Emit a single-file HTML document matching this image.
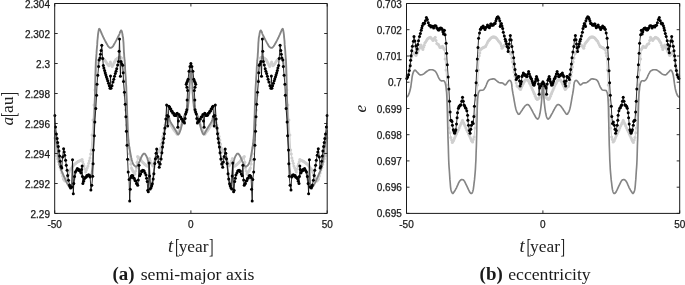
<!DOCTYPE html>
<html><head><meta charset="utf-8"><title>figure</title>
<style>
html,body{margin:0;padding:0;background:#fff;}
body{width:685px;height:285px;overflow:hidden;}
svg{display:block;}
.tk{font-family:"Liberation Sans",Arial,Helvetica,sans-serif;font-size:10px;fill:#1a1a1a;stroke:#1a1a1a;stroke-width:0.25px;}
.lab{font-family:"Liberation Serif","Times New Roman",serif;font-size:16.5px;fill:#222;}
.cap{font-family:"Liberation Serif","Times New Roman",serif;font-size:16.5px;fill:#1a1a1a;}
</style></head><body>
<svg width="685" height="285" viewBox="0 0 685 285">
<rect width="685" height="285" fill="#fff"/>
<clipPath id="c1"><rect x="53.2" y="2.0" width="275.5" height="212.9"/></clipPath>
<g clip-path="url(#c1)">
<path d="M54.8 138.0 L55.8 152.8 L58.3 161.6 L61.0 170.0 L63.4 179.0 L65.0 181.0 L67.0 178.0 L70.0 170.0 L74.0 164.7 L78.0 161.6 L82.1 159.6 L84.0 166.0 L85.6 172.0 L88.0 166.0 L90.0 158.0 L91.2 150.0 L92.0 135.0 L93.0 120.0 L94.0 105.0 L95.0 90.0 L96.0 75.0 L97.0 66.0 L98.5 60.0 L100.5 57.5 L103.0 58.5 L105.2 60.8 L107.0 63.5 L109.0 65.8 L110.3 62.0 L112.2 66.5 L114.0 63.0 L115.9 59.5 L118.0 58.0 L120.0 57.0 L121.5 58.0 L122.5 65.0 L123.5 80.0 L124.5 95.0 L125.5 110.0 L126.5 125.0 L127.8 140.0 L128.9 147.6 L130.0 160.0 L131.5 168.0 L132.9 171.0 L135.0 174.0 L136.5 168.0 L137.6 156.5 L139.0 158.0 L142.2 161.7 L145.3 164.8 L147.6 166.3 L148.5 162.0 L149.5 158.5 L151.0 163.0 L153.0 166.0 L155.0 160.0 L157.0 150.0 L159.0 152.0 L160.5 148.0 L162.0 140.0 L163.5 133.0 L165.0 125.0 L166.5 120.0 L168.0 121.0 L171.0 125.0 L174.0 130.0 L177.2 134.2 L180.0 129.0 L183.0 120.0 L185.0 115.0 L186.8 111.5 L187.8 106.0 L188.5 98.0 L189.1 88.0 L189.7 78.0 L190.3 69.0 L190.9 64.0 L191.6 69.0 L192.2 78.0 L192.8 88.0 L193.4 98.0 L194.1 106.0 L195.1 111.5 L196.9 115.0 L198.9 120.0 L201.9 129.0 L204.7 134.2 L207.9 130.0 L210.9 125.0 L213.9 121.0 L215.4 120.0 L216.9 125.0 L218.4 133.0 L219.9 140.0 L221.4 148.0 L222.9 152.0 L224.9 150.0 L226.9 160.0 L228.9 166.0 L230.9 163.0 L232.4 158.5 L233.4 162.0 L234.3 166.3 L236.6 164.8 L239.7 161.7 L242.9 158.0 L244.3 156.5 L245.4 168.0 L246.9 174.0 L249.0 171.0 L250.4 168.0 L251.9 160.0 L253.0 147.6 L254.1 140.0 L255.4 125.0 L256.4 110.0 L257.4 95.0 L258.4 80.0 L259.4 65.0 L260.4 58.0 L261.9 57.0 L263.9 58.0 L266.0 59.5 L267.9 63.0 L269.7 66.5 L271.6 62.0 L272.9 65.8 L274.9 63.5 L276.7 60.8 L278.9 58.5 L281.4 57.5 L283.4 60.0 L284.9 66.0 L285.9 75.0 L286.9 90.0 L287.9 105.0 L288.9 120.0 L289.9 135.0 L290.7 150.0 L291.9 158.0 L293.9 166.0 L296.3 172.0 L297.9 166.0 L299.8 159.6 L303.9 161.6 L307.9 164.7 L311.9 170.0 L314.9 178.0 L316.9 181.0 L318.5 179.0 L320.9 170.0 L323.6 161.6 L326.1 152.8 L327.1 138.0" fill="none" stroke="#cfcfcf" stroke-width="1" stroke-linejoin="round"/>
<g fill="#cfcfcf"><circle cx="54.8" cy="138.0" r="1.5"/><circle cx="55.8" cy="152.8" r="1.5"/><circle cx="56.6" cy="155.7" r="1.5"/><circle cx="57.5" cy="158.7" r="1.5"/><circle cx="58.3" cy="161.6" r="1.5"/><circle cx="59.2" cy="164.4" r="1.5"/><circle cx="60.1" cy="167.2" r="1.5"/><circle cx="61.0" cy="170.0" r="1.5"/><circle cx="61.8" cy="173.0" r="1.5"/><circle cx="62.6" cy="176.0" r="1.5"/><circle cx="63.4" cy="179.0" r="1.5"/><circle cx="64.2" cy="180.0" r="1.5"/><circle cx="65.0" cy="181.0" r="1.5"/><circle cx="65.7" cy="180.0" r="1.5"/><circle cx="66.3" cy="179.0" r="1.5"/><circle cx="67.0" cy="178.0" r="1.5"/><circle cx="67.8" cy="176.0" r="1.5"/><circle cx="68.5" cy="174.0" r="1.5"/><circle cx="69.2" cy="172.0" r="1.5"/><circle cx="70.0" cy="170.0" r="1.5"/><circle cx="70.8" cy="168.9" r="1.5"/><circle cx="71.6" cy="167.9" r="1.5"/><circle cx="72.4" cy="166.8" r="1.5"/><circle cx="73.2" cy="165.8" r="1.5"/><circle cx="74.0" cy="164.7" r="1.5"/><circle cx="74.8" cy="164.1" r="1.5"/><circle cx="75.6" cy="163.5" r="1.5"/><circle cx="76.4" cy="162.8" r="1.5"/><circle cx="77.2" cy="162.2" r="1.5"/><circle cx="78.0" cy="161.6" r="1.5"/><circle cx="78.8" cy="161.2" r="1.5"/><circle cx="79.6" cy="160.8" r="1.5"/><circle cx="80.5" cy="160.4" r="1.5"/><circle cx="81.3" cy="160.0" r="1.5"/><circle cx="82.1" cy="159.6" r="1.5"/><circle cx="82.7" cy="161.7" r="1.5"/><circle cx="83.4" cy="163.9" r="1.5"/><circle cx="84.0" cy="166.0" r="1.5"/><circle cx="84.8" cy="169.0" r="1.5"/><circle cx="85.6" cy="172.0" r="1.5"/><circle cx="86.4" cy="170.0" r="1.5"/><circle cx="87.2" cy="168.0" r="1.5"/><circle cx="88.0" cy="166.0" r="1.5"/><circle cx="88.7" cy="163.3" r="1.5"/><circle cx="89.3" cy="160.7" r="1.5"/><circle cx="90.0" cy="158.0" r="1.5"/><circle cx="90.6" cy="154.0" r="1.5"/><circle cx="91.2" cy="150.0" r="1.5"/><circle cx="92.0" cy="135.0" r="1.5"/><circle cx="93.0" cy="120.0" r="1.5"/><circle cx="94.0" cy="105.0" r="1.5"/><circle cx="95.0" cy="90.0" r="1.5"/><circle cx="96.0" cy="75.0" r="1.5"/><circle cx="97.0" cy="66.0" r="1.5"/><circle cx="97.8" cy="63.0" r="1.5"/><circle cx="98.5" cy="60.0" r="1.5"/><circle cx="99.2" cy="59.2" r="1.5"/><circle cx="99.8" cy="58.3" r="1.5"/><circle cx="100.5" cy="57.5" r="1.5"/><circle cx="101.3" cy="57.8" r="1.5"/><circle cx="102.2" cy="58.2" r="1.5"/><circle cx="103.0" cy="58.5" r="1.5"/><circle cx="103.7" cy="59.3" r="1.5"/><circle cx="104.5" cy="60.0" r="1.5"/><circle cx="105.2" cy="60.8" r="1.5"/><circle cx="106.1" cy="62.1" r="1.5"/><circle cx="107.0" cy="63.5" r="1.5"/><circle cx="107.7" cy="64.3" r="1.5"/><circle cx="108.3" cy="65.0" r="1.5"/><circle cx="109.0" cy="65.8" r="1.5"/><circle cx="109.7" cy="63.9" r="1.5"/><circle cx="110.3" cy="62.0" r="1.5"/><circle cx="110.9" cy="63.5" r="1.5"/><circle cx="111.6" cy="65.0" r="1.5"/><circle cx="112.2" cy="66.5" r="1.5"/><circle cx="113.1" cy="64.8" r="1.5"/><circle cx="114.0" cy="63.0" r="1.5"/><circle cx="114.6" cy="61.8" r="1.5"/><circle cx="115.3" cy="60.7" r="1.5"/><circle cx="115.9" cy="59.5" r="1.5"/><circle cx="116.6" cy="59.0" r="1.5"/><circle cx="117.3" cy="58.5" r="1.5"/><circle cx="118.0" cy="58.0" r="1.5"/><circle cx="118.7" cy="57.7" r="1.5"/><circle cx="119.3" cy="57.3" r="1.5"/><circle cx="120.0" cy="57.0" r="1.5"/><circle cx="120.8" cy="57.5" r="1.5"/><circle cx="121.5" cy="58.0" r="1.5"/><circle cx="122.5" cy="65.0" r="1.5"/><circle cx="123.5" cy="80.0" r="1.5"/><circle cx="124.5" cy="95.0" r="1.5"/><circle cx="125.5" cy="110.0" r="1.5"/><circle cx="126.5" cy="125.0" r="1.5"/><circle cx="127.2" cy="132.5" r="1.5"/><circle cx="127.8" cy="140.0" r="1.5"/><circle cx="128.3" cy="143.8" r="1.5"/><circle cx="128.9" cy="147.6" r="1.5"/><circle cx="129.4" cy="153.8" r="1.5"/><circle cx="130.0" cy="160.0" r="1.5"/><circle cx="130.8" cy="164.0" r="1.5"/><circle cx="131.5" cy="168.0" r="1.5"/><circle cx="132.2" cy="169.5" r="1.5"/><circle cx="132.9" cy="171.0" r="1.5"/><circle cx="133.6" cy="172.0" r="1.5"/><circle cx="134.3" cy="173.0" r="1.5"/><circle cx="135.0" cy="174.0" r="1.5"/><circle cx="135.8" cy="171.0" r="1.5"/><circle cx="136.5" cy="168.0" r="1.5"/><circle cx="137.1" cy="162.2" r="1.5"/><circle cx="137.6" cy="156.5" r="1.5"/><circle cx="138.3" cy="157.2" r="1.5"/><circle cx="139.0" cy="158.0" r="1.5"/><circle cx="139.8" cy="158.9" r="1.5"/><circle cx="140.6" cy="159.8" r="1.5"/><circle cx="141.4" cy="160.8" r="1.5"/><circle cx="142.2" cy="161.7" r="1.5"/><circle cx="143.0" cy="162.5" r="1.5"/><circle cx="143.8" cy="163.2" r="1.5"/><circle cx="144.5" cy="164.0" r="1.5"/><circle cx="145.3" cy="164.8" r="1.5"/><circle cx="146.1" cy="165.3" r="1.5"/><circle cx="146.8" cy="165.8" r="1.5"/><circle cx="147.6" cy="166.3" r="1.5"/><circle cx="148.5" cy="162.0" r="1.5"/><circle cx="149.5" cy="158.5" r="1.5"/><circle cx="150.2" cy="160.8" r="1.5"/><circle cx="151.0" cy="163.0" r="1.5"/><circle cx="151.7" cy="164.0" r="1.5"/><circle cx="152.3" cy="165.0" r="1.5"/><circle cx="153.0" cy="166.0" r="1.5"/><circle cx="153.7" cy="164.0" r="1.5"/><circle cx="154.3" cy="162.0" r="1.5"/><circle cx="155.0" cy="160.0" r="1.5"/><circle cx="155.7" cy="156.7" r="1.5"/><circle cx="156.3" cy="153.3" r="1.5"/><circle cx="157.0" cy="150.0" r="1.5"/><circle cx="157.7" cy="150.7" r="1.5"/><circle cx="158.3" cy="151.3" r="1.5"/><circle cx="159.0" cy="152.0" r="1.5"/><circle cx="159.8" cy="150.0" r="1.5"/><circle cx="160.5" cy="148.0" r="1.5"/><circle cx="161.2" cy="144.0" r="1.5"/><circle cx="162.0" cy="140.0" r="1.5"/><circle cx="162.8" cy="136.5" r="1.5"/><circle cx="163.5" cy="133.0" r="1.5"/><circle cx="164.2" cy="129.0" r="1.5"/><circle cx="165.0" cy="125.0" r="1.5"/><circle cx="165.8" cy="122.5" r="1.5"/><circle cx="166.5" cy="120.0" r="1.5"/><circle cx="167.2" cy="120.5" r="1.5"/><circle cx="168.0" cy="121.0" r="1.5"/><circle cx="168.8" cy="122.0" r="1.5"/><circle cx="169.5" cy="123.0" r="1.5"/><circle cx="170.2" cy="124.0" r="1.5"/><circle cx="171.0" cy="125.0" r="1.5"/><circle cx="171.8" cy="126.2" r="1.5"/><circle cx="172.5" cy="127.5" r="1.5"/><circle cx="173.2" cy="128.8" r="1.5"/><circle cx="174.0" cy="130.0" r="1.5"/><circle cx="174.8" cy="131.1" r="1.5"/><circle cx="175.6" cy="132.1" r="1.5"/><circle cx="176.4" cy="133.1" r="1.5"/><circle cx="177.2" cy="134.2" r="1.5"/><circle cx="177.9" cy="132.9" r="1.5"/><circle cx="178.6" cy="131.6" r="1.5"/><circle cx="179.3" cy="130.3" r="1.5"/><circle cx="180.0" cy="129.0" r="1.5"/><circle cx="180.8" cy="126.8" r="1.5"/><circle cx="181.5" cy="124.5" r="1.5"/><circle cx="182.2" cy="122.2" r="1.5"/><circle cx="183.0" cy="120.0" r="1.5"/><circle cx="183.7" cy="118.3" r="1.5"/><circle cx="184.3" cy="116.7" r="1.5"/><circle cx="185.0" cy="115.0" r="1.5"/><circle cx="185.9" cy="113.2" r="1.5"/><circle cx="186.8" cy="111.5" r="1.5"/><circle cx="187.8" cy="106.0" r="1.5"/><circle cx="188.5" cy="98.0" r="1.5"/><circle cx="189.1" cy="88.0" r="1.5"/><circle cx="189.7" cy="78.0" r="1.5"/><circle cx="190.3" cy="69.0" r="1.5"/><circle cx="190.9" cy="64.0" r="1.5"/><circle cx="191.6" cy="69.0" r="1.5"/><circle cx="192.2" cy="78.0" r="1.5"/><circle cx="192.8" cy="88.0" r="1.5"/><circle cx="193.4" cy="98.0" r="1.5"/><circle cx="194.1" cy="106.0" r="1.5"/><circle cx="195.1" cy="111.5" r="1.5"/><circle cx="196.0" cy="113.2" r="1.5"/><circle cx="196.9" cy="115.0" r="1.5"/><circle cx="197.6" cy="116.7" r="1.5"/><circle cx="198.2" cy="118.3" r="1.5"/><circle cx="198.9" cy="120.0" r="1.5"/><circle cx="199.6" cy="122.2" r="1.5"/><circle cx="200.4" cy="124.5" r="1.5"/><circle cx="201.1" cy="126.8" r="1.5"/><circle cx="201.9" cy="129.0" r="1.5"/><circle cx="202.6" cy="130.3" r="1.5"/><circle cx="203.3" cy="131.6" r="1.5"/><circle cx="204.0" cy="132.9" r="1.5"/><circle cx="204.7" cy="134.2" r="1.5"/><circle cx="205.5" cy="133.1" r="1.5"/><circle cx="206.3" cy="132.1" r="1.5"/><circle cx="207.1" cy="131.1" r="1.5"/><circle cx="207.9" cy="130.0" r="1.5"/><circle cx="208.6" cy="128.8" r="1.5"/><circle cx="209.4" cy="127.5" r="1.5"/><circle cx="210.1" cy="126.2" r="1.5"/><circle cx="210.9" cy="125.0" r="1.5"/><circle cx="211.6" cy="124.0" r="1.5"/><circle cx="212.4" cy="123.0" r="1.5"/><circle cx="213.1" cy="122.0" r="1.5"/><circle cx="213.9" cy="121.0" r="1.5"/><circle cx="214.6" cy="120.5" r="1.5"/><circle cx="215.4" cy="120.0" r="1.5"/><circle cx="216.1" cy="122.5" r="1.5"/><circle cx="216.9" cy="125.0" r="1.5"/><circle cx="217.6" cy="129.0" r="1.5"/><circle cx="218.4" cy="133.0" r="1.5"/><circle cx="219.1" cy="136.5" r="1.5"/><circle cx="219.9" cy="140.0" r="1.5"/><circle cx="220.6" cy="144.0" r="1.5"/><circle cx="221.4" cy="148.0" r="1.5"/><circle cx="222.1" cy="150.0" r="1.5"/><circle cx="222.9" cy="152.0" r="1.5"/><circle cx="223.6" cy="151.3" r="1.5"/><circle cx="224.2" cy="150.7" r="1.5"/><circle cx="224.9" cy="150.0" r="1.5"/><circle cx="225.6" cy="153.3" r="1.5"/><circle cx="226.2" cy="156.7" r="1.5"/><circle cx="226.9" cy="160.0" r="1.5"/><circle cx="227.6" cy="162.0" r="1.5"/><circle cx="228.2" cy="164.0" r="1.5"/><circle cx="228.9" cy="166.0" r="1.5"/><circle cx="229.6" cy="165.0" r="1.5"/><circle cx="230.2" cy="164.0" r="1.5"/><circle cx="230.9" cy="163.0" r="1.5"/><circle cx="231.6" cy="160.8" r="1.5"/><circle cx="232.4" cy="158.5" r="1.5"/><circle cx="233.4" cy="162.0" r="1.5"/><circle cx="234.3" cy="166.3" r="1.5"/><circle cx="235.1" cy="165.8" r="1.5"/><circle cx="235.8" cy="165.3" r="1.5"/><circle cx="236.6" cy="164.8" r="1.5"/><circle cx="237.4" cy="164.0" r="1.5"/><circle cx="238.1" cy="163.2" r="1.5"/><circle cx="238.9" cy="162.5" r="1.5"/><circle cx="239.7" cy="161.7" r="1.5"/><circle cx="240.5" cy="160.8" r="1.5"/><circle cx="241.3" cy="159.8" r="1.5"/><circle cx="242.1" cy="158.9" r="1.5"/><circle cx="242.9" cy="158.0" r="1.5"/><circle cx="243.6" cy="157.2" r="1.5"/><circle cx="244.3" cy="156.5" r="1.5"/><circle cx="244.8" cy="162.2" r="1.5"/><circle cx="245.4" cy="168.0" r="1.5"/><circle cx="246.1" cy="171.0" r="1.5"/><circle cx="246.9" cy="174.0" r="1.5"/><circle cx="247.6" cy="173.0" r="1.5"/><circle cx="248.3" cy="172.0" r="1.5"/><circle cx="249.0" cy="171.0" r="1.5"/><circle cx="249.7" cy="169.5" r="1.5"/><circle cx="250.4" cy="168.0" r="1.5"/><circle cx="251.1" cy="164.0" r="1.5"/><circle cx="251.9" cy="160.0" r="1.5"/><circle cx="252.4" cy="153.8" r="1.5"/><circle cx="253.0" cy="147.6" r="1.5"/><circle cx="253.5" cy="143.8" r="1.5"/><circle cx="254.1" cy="140.0" r="1.5"/><circle cx="254.7" cy="132.5" r="1.5"/><circle cx="255.4" cy="125.0" r="1.5"/><circle cx="256.4" cy="110.0" r="1.5"/><circle cx="257.4" cy="95.0" r="1.5"/><circle cx="258.4" cy="80.0" r="1.5"/><circle cx="259.4" cy="65.0" r="1.5"/><circle cx="260.4" cy="58.0" r="1.5"/><circle cx="261.1" cy="57.5" r="1.5"/><circle cx="261.9" cy="57.0" r="1.5"/><circle cx="262.6" cy="57.3" r="1.5"/><circle cx="263.2" cy="57.7" r="1.5"/><circle cx="263.9" cy="58.0" r="1.5"/><circle cx="264.6" cy="58.5" r="1.5"/><circle cx="265.3" cy="59.0" r="1.5"/><circle cx="266.0" cy="59.5" r="1.5"/><circle cx="266.6" cy="60.7" r="1.5"/><circle cx="267.3" cy="61.8" r="1.5"/><circle cx="267.9" cy="63.0" r="1.5"/><circle cx="268.8" cy="64.8" r="1.5"/><circle cx="269.7" cy="66.5" r="1.5"/><circle cx="270.3" cy="65.0" r="1.5"/><circle cx="271.0" cy="63.5" r="1.5"/><circle cx="271.6" cy="62.0" r="1.5"/><circle cx="272.2" cy="63.9" r="1.5"/><circle cx="272.9" cy="65.8" r="1.5"/><circle cx="273.6" cy="65.0" r="1.5"/><circle cx="274.2" cy="64.3" r="1.5"/><circle cx="274.9" cy="63.5" r="1.5"/><circle cx="275.8" cy="62.1" r="1.5"/><circle cx="276.7" cy="60.8" r="1.5"/><circle cx="277.4" cy="60.0" r="1.5"/><circle cx="278.2" cy="59.3" r="1.5"/><circle cx="278.9" cy="58.5" r="1.5"/><circle cx="279.7" cy="58.2" r="1.5"/><circle cx="280.6" cy="57.8" r="1.5"/><circle cx="281.4" cy="57.5" r="1.5"/><circle cx="282.1" cy="58.3" r="1.5"/><circle cx="282.7" cy="59.2" r="1.5"/><circle cx="283.4" cy="60.0" r="1.5"/><circle cx="284.1" cy="63.0" r="1.5"/><circle cx="284.9" cy="66.0" r="1.5"/><circle cx="285.9" cy="75.0" r="1.5"/><circle cx="286.9" cy="90.0" r="1.5"/><circle cx="287.9" cy="105.0" r="1.5"/><circle cx="288.9" cy="120.0" r="1.5"/><circle cx="289.9" cy="135.0" r="1.5"/><circle cx="290.7" cy="150.0" r="1.5"/><circle cx="291.3" cy="154.0" r="1.5"/><circle cx="291.9" cy="158.0" r="1.5"/><circle cx="292.6" cy="160.7" r="1.5"/><circle cx="293.2" cy="163.3" r="1.5"/><circle cx="293.9" cy="166.0" r="1.5"/><circle cx="294.7" cy="168.0" r="1.5"/><circle cx="295.5" cy="170.0" r="1.5"/><circle cx="296.3" cy="172.0" r="1.5"/><circle cx="297.1" cy="169.0" r="1.5"/><circle cx="297.9" cy="166.0" r="1.5"/><circle cx="298.5" cy="163.9" r="1.5"/><circle cx="299.2" cy="161.7" r="1.5"/><circle cx="299.8" cy="159.6" r="1.5"/><circle cx="300.6" cy="160.0" r="1.5"/><circle cx="301.4" cy="160.4" r="1.5"/><circle cx="302.3" cy="160.8" r="1.5"/><circle cx="303.1" cy="161.2" r="1.5"/><circle cx="303.9" cy="161.6" r="1.5"/><circle cx="304.7" cy="162.2" r="1.5"/><circle cx="305.5" cy="162.8" r="1.5"/><circle cx="306.3" cy="163.5" r="1.5"/><circle cx="307.1" cy="164.1" r="1.5"/><circle cx="307.9" cy="164.7" r="1.5"/><circle cx="308.7" cy="165.8" r="1.5"/><circle cx="309.5" cy="166.8" r="1.5"/><circle cx="310.3" cy="167.9" r="1.5"/><circle cx="311.1" cy="168.9" r="1.5"/><circle cx="311.9" cy="170.0" r="1.5"/><circle cx="312.6" cy="172.0" r="1.5"/><circle cx="313.4" cy="174.0" r="1.5"/><circle cx="314.1" cy="176.0" r="1.5"/><circle cx="314.9" cy="178.0" r="1.5"/><circle cx="315.6" cy="179.0" r="1.5"/><circle cx="316.2" cy="180.0" r="1.5"/><circle cx="316.9" cy="181.0" r="1.5"/><circle cx="317.7" cy="180.0" r="1.5"/><circle cx="318.5" cy="179.0" r="1.5"/><circle cx="319.3" cy="176.0" r="1.5"/><circle cx="320.1" cy="173.0" r="1.5"/><circle cx="320.9" cy="170.0" r="1.5"/><circle cx="321.8" cy="167.2" r="1.5"/><circle cx="322.7" cy="164.4" r="1.5"/><circle cx="323.6" cy="161.6" r="1.5"/><circle cx="324.4" cy="158.7" r="1.5"/><circle cx="325.3" cy="155.7" r="1.5"/><circle cx="326.1" cy="152.8" r="1.5"/><circle cx="327.1" cy="138.0" r="1.5"/></g>
<path d="M54.8 131.0 L55.0 132.5 L55.3 134.6 L55.6 136.8 L55.8 138.6 L56.0 139.8 L56.1 140.7 L56.3 141.5 L56.4 142.4 L56.5 143.4 L56.7 144.4 L56.8 145.4 L57.0 146.5 L57.2 147.6 L57.4 148.6 L57.5 149.7 L57.7 150.9 L57.9 152.1 L58.0 153.4 L58.1 154.7 L58.3 156.0 L58.5 157.3 L58.6 158.7 L58.8 160.0 L59.0 161.3 L59.2 162.5 L59.4 163.8 L59.7 164.9 L59.9 166.0 L60.2 167.0 L60.4 167.8 L60.7 168.7 L61.0 169.5 L61.3 170.4 L61.7 171.2 L62.1 172.1 L62.5 173.0 L62.9 173.9 L63.2 174.7 L63.6 175.6 L64.0 176.5 L64.5 177.6 L65.0 178.7 L65.5 179.9 L66.0 181.0 L66.5 182.1 L67.0 183.1 L67.5 184.1 L68.0 185.0 L68.5 185.8 L69.0 186.5 L69.5 187.1 L70.0 187.6 L70.4 187.9 L70.8 188.1 L71.1 188.1 L71.5 188.0 L71.9 187.8 L72.3 187.4 L72.6 186.8 L73.0 186.0 L73.3 184.8 L73.6 183.3 L73.9 181.7 L74.2 180.0 L74.5 178.2 L74.8 176.3 L75.1 174.5 L75.4 173.0 L75.7 171.9 L76.0 171.1 L76.2 170.5 L76.5 170.0 L76.7 169.6 L76.8 169.3 L77.0 169.2 L77.3 169.2 L77.7 169.3 L78.2 169.5 L78.7 169.9 L79.2 170.3 L79.6 170.8 L80.1 171.4 L80.5 172.1 L80.9 172.9 L81.3 173.8 L81.8 174.9 L82.2 175.9 L82.6 176.8 L83.0 177.5 L83.4 178.1 L83.8 178.5 L84.3 178.6 L84.9 178.2 L85.5 177.4 L86.2 176.6 L86.8 175.9 L87.5 175.5 L88.1 175.2 L88.8 175.0 L89.3 175.0 L89.7 175.2 L89.9 175.6 L90.2 175.9 L90.4 176.0 L90.7 175.9 L91.0 175.7 L91.2 175.1 L91.5 174.0 L91.8 172.2 L92.1 169.8 L92.4 167.0 L92.6 164.0 L92.8 160.9 L93.0 157.6 L93.1 154.0 L93.3 150.0 L93.5 145.4 L93.7 140.4 L93.8 135.1 L94.0 130.0 L94.2 125.0 L94.3 119.9 L94.5 114.9 L94.6 110.0 L94.7 105.3 L94.8 100.8 L94.9 96.4 L95.0 92.0 L95.1 87.6 L95.2 83.1 L95.3 78.9 L95.4 75.0 L95.5 71.5 L95.6 68.4 L95.7 65.5 L95.8 63.0 L95.9 60.9 L96.0 59.3 L96.2 57.8 L96.3 56.0 L96.5 53.9 L96.6 51.6 L96.8 49.2 L97.0 47.0 L97.2 44.9 L97.3 42.8 L97.4 40.9 L97.6 39.0 L97.8 37.2 L97.9 35.5 L98.1 33.9 L98.3 32.5 L98.5 31.3 L98.7 30.2 L98.9 29.4 L99.1 28.9 L99.3 28.8 L99.5 29.0 L99.8 29.3 L100.0 29.8 L100.3 30.3 L100.6 31.0 L100.9 31.7 L101.2 32.5 L101.6 33.4 L102.0 34.4 L102.5 35.4 L102.9 36.3 L103.3 37.2 L103.7 38.0 L104.1 38.8 L104.5 39.6 L104.9 40.4 L105.3 41.1 L105.6 41.8 L106.0 42.5 L106.3 43.1 L106.7 43.7 L107.0 44.3 L107.3 44.8 L107.6 45.2 L107.8 45.6 L108.0 46.0 L108.3 46.3 L108.6 46.6 L108.8 46.9 L109.1 47.2 L109.4 47.4 L109.7 47.6 L109.9 47.8 L110.2 47.9 L110.5 47.9 L110.8 47.9 L111.1 47.8 L111.4 47.6 L111.7 47.4 L112.0 47.2 L112.3 47.0 L112.6 46.7 L112.9 46.3 L113.3 45.8 L113.6 45.2 L114.0 44.5 L114.4 43.8 L114.8 43.1 L115.2 42.4 L115.6 41.6 L116.0 40.9 L116.4 40.1 L116.8 39.4 L117.2 38.6 L117.6 37.8 L118.0 37.0 L118.4 36.3 L118.8 35.5 L119.1 34.8 L119.4 34.1 L119.7 33.3 L119.9 32.6 L120.2 32.0 L120.4 31.4 L120.7 30.9 L120.9 30.5 L121.1 30.4 L121.3 30.5 L121.6 30.8 L121.8 31.4 L122.0 32.0 L122.2 32.9 L122.4 33.9 L122.5 35.0 L122.7 36.0 L122.8 36.7 L123.0 37.2 L123.1 37.9 L123.2 39.0 L123.3 40.6 L123.5 42.6 L123.6 44.8 L123.7 47.0 L123.8 49.2 L123.9 51.6 L124.1 53.9 L124.2 56.0 L124.3 57.7 L124.5 59.1 L124.6 60.7 L124.8 62.7 L125.0 65.5 L125.1 68.7 L125.3 72.0 L125.5 75.0 L125.7 77.4 L125.8 79.4 L125.9 81.5 L126.1 84.2 L126.3 87.6 L126.4 91.6 L126.6 95.7 L126.8 100.0 L127.0 104.3 L127.1 108.7 L127.2 113.3 L127.4 118.0 L127.6 123.1 L127.8 128.5 L128.0 133.7 L128.3 138.0 L128.6 141.2 L128.8 143.5 L129.1 145.6 L129.5 148.0 L130.0 151.0 L130.6 154.3 L131.2 157.5 L131.8 160.0 L132.3 161.7 L132.7 162.9 L133.0 163.7 L133.5 164.5 L134.0 165.3 L134.7 165.9 L135.3 166.4 L135.8 166.6 L136.3 166.6 L136.7 166.4 L137.1 166.0 L137.5 165.5 L137.9 164.8 L138.4 164.0 L138.8 163.0 L139.3 162.0 L139.8 160.8 L140.4 159.5 L140.9 158.1 L141.4 157.0 L141.8 156.1 L142.3 155.4 L142.6 154.8 L143.0 154.3 L143.3 154.0 L143.6 153.7 L143.8 153.6 L144.1 153.6 L144.4 153.6 L144.7 153.7 L145.0 154.0 L145.3 154.3 L145.6 154.8 L146.0 155.3 L146.4 156.1 L146.8 157.0 L147.3 158.2 L147.7 159.6 L148.2 161.2 L148.6 162.8 L148.9 164.5 L149.1 166.3 L149.2 168.1 L149.4 170.0 L149.6 172.0 L149.7 174.1 L149.8 176.1 L150.0 178.0 L150.2 179.7 L150.4 181.4 L150.6 182.9 L150.8 184.0 L151.0 184.8 L151.3 185.3 L151.5 185.6 L151.8 185.5 L152.1 185.1 L152.3 184.3 L152.6 183.3 L152.8 182.0 L153.0 180.3 L153.2 178.3 L153.4 176.1 L153.6 174.0 L153.8 172.0 L154.0 169.9 L154.3 167.9 L154.5 166.0 L154.7 164.3 L155.0 162.7 L155.2 161.2 L155.5 160.0 L155.8 159.0 L156.2 158.3 L156.6 157.8 L157.0 157.5 L157.4 157.5 L157.8 157.8 L158.1 158.2 L158.5 158.5 L158.9 158.8 L159.3 159.1 L159.6 159.2 L160.0 159.0 L160.3 158.4 L160.7 157.5 L161.0 156.3 L161.3 155.0 L161.6 153.5 L161.8 151.7 L162.1 149.8 L162.3 148.0 L162.5 146.3 L162.8 144.6 L163.0 142.9 L163.3 141.0 L163.6 138.9 L163.9 136.7 L164.2 134.4 L164.5 132.0 L164.9 129.5 L165.2 126.8 L165.6 124.2 L166.0 122.0 L166.4 120.3 L166.8 118.8 L167.1 117.7 L167.5 117.0 L167.9 116.7 L168.3 116.7 L168.6 117.0 L169.0 117.5 L169.3 118.2 L169.5 119.2 L169.8 120.4 L170.2 121.5 L170.8 122.6 L171.5 123.7 L172.2 124.8 L173.0 126.0 L173.8 127.2 L174.5 128.6 L175.3 129.8 L176.0 131.0 L176.6 132.2 L177.1 133.3 L177.7 134.2 L178.2 134.5 L178.8 134.0 L179.4 133.0 L179.9 131.6 L180.5 130.0 L181.0 128.2 L181.5 126.1 L182.0 124.0 L182.5 122.0 L183.1 120.1 L183.6 118.2 L184.2 116.5 L184.7 115.2 L185.1 114.3 L185.5 113.9 L185.9 113.5 L186.2 113.0 L186.5 112.4 L186.8 111.7 L187.1 111.0 L187.4 110.0 L187.7 108.7 L187.9 107.2 L188.1 105.6 L188.3 104.0 L188.5 102.4 L188.7 100.7 L188.8 98.9 L189.0 97.0 L189.1 94.9 L189.3 92.7 L189.4 90.4 L189.5 88.0 L189.6 85.5 L189.8 83.0 L189.9 80.5 L190.0 78.0 L190.1 75.6 L190.2 73.2 L190.3 71.0 L190.4 69.0 L190.5 67.1 L190.7 65.3 L190.8 64.0 L190.9 63.5 L191.1 64.0 L191.2 65.3 L191.4 67.1 L191.5 69.0 L191.6 71.0 L191.7 73.2 L191.8 75.6 L191.9 78.0 L192.0 80.5 L192.1 83.0 L192.3 85.5 L192.4 88.0 L192.5 90.4 L192.6 92.7 L192.8 94.9 L192.9 97.0 L193.1 98.9 L193.2 100.7 L193.4 102.4 L193.6 104.0 L193.8 105.6 L194.0 107.2 L194.2 108.7 L194.5 110.0 L194.8 111.0 L195.1 111.7 L195.4 112.4 L195.7 113.0 L196.0 113.5 L196.4 113.9 L196.8 114.3 L197.2 115.2 L197.7 116.5 L198.3 118.2 L198.8 120.1 L199.4 122.0 L199.9 124.0 L200.4 126.1 L200.9 128.2 L201.4 130.0 L202.0 131.6 L202.5 133.0 L203.1 134.0 L203.7 134.5 L204.2 134.2 L204.8 133.3 L205.3 132.2 L205.9 131.0 L206.6 129.8 L207.4 128.6 L208.1 127.2 L208.9 126.0 L209.7 124.8 L210.4 123.7 L211.1 122.6 L211.7 121.5 L212.1 120.4 L212.4 119.2 L212.6 118.2 L212.9 117.5 L213.3 117.0 L213.6 116.7 L214.0 116.7 L214.4 117.0 L214.8 117.7 L215.1 118.8 L215.5 120.3 L215.9 122.0 L216.3 124.2 L216.7 126.8 L217.0 129.5 L217.4 132.0 L217.7 134.4 L218.0 136.7 L218.3 138.9 L218.6 141.0 L218.9 142.9 L219.1 144.6 L219.4 146.3 L219.6 148.0 L219.8 149.8 L220.1 151.7 L220.3 153.5 L220.6 155.0 L220.9 156.3 L221.2 157.5 L221.6 158.4 L221.9 159.0 L222.3 159.2 L222.6 159.1 L223.0 158.8 L223.4 158.5 L223.8 158.2 L224.1 157.8 L224.5 157.5 L224.9 157.5 L225.3 157.8 L225.7 158.3 L226.1 159.0 L226.4 160.0 L226.7 161.2 L226.9 162.7 L227.2 164.3 L227.4 166.0 L227.6 167.9 L227.9 169.9 L228.1 172.0 L228.3 174.0 L228.5 176.1 L228.7 178.3 L228.9 180.3 L229.1 182.0 L229.3 183.3 L229.6 184.3 L229.8 185.1 L230.1 185.5 L230.4 185.6 L230.6 185.3 L230.9 184.8 L231.1 184.0 L231.3 182.9 L231.5 181.4 L231.7 179.7 L231.9 178.0 L232.1 176.1 L232.2 174.1 L232.3 172.0 L232.5 170.0 L232.7 168.1 L232.8 166.3 L233.0 164.5 L233.3 162.8 L233.7 161.2 L234.2 159.6 L234.6 158.2 L235.1 157.0 L235.5 156.1 L235.9 155.3 L236.3 154.8 L236.6 154.3 L236.9 154.0 L237.2 153.7 L237.5 153.6 L237.8 153.6 L238.1 153.6 L238.3 153.7 L238.6 154.0 L238.9 154.3 L239.3 154.8 L239.6 155.4 L240.1 156.1 L240.5 157.0 L241.0 158.1 L241.5 159.4 L242.1 160.8 L242.6 162.0 L243.1 163.0 L243.5 164.0 L244.0 164.8 L244.4 165.5 L244.8 166.0 L245.2 166.4 L245.6 166.6 L246.1 166.6 L246.6 166.4 L247.2 165.9 L247.9 165.3 L248.4 164.5 L248.9 163.7 L249.2 162.9 L249.6 161.7 L250.1 160.0 L250.7 157.5 L251.3 154.3 L251.9 151.0 L252.4 148.0 L252.8 145.6 L253.1 143.5 L253.3 141.2 L253.6 138.0 L253.9 133.7 L254.1 128.5 L254.3 123.1 L254.5 118.0 L254.7 113.3 L254.8 108.7 L254.9 104.3 L255.1 100.0 L255.3 95.7 L255.4 91.6 L255.6 87.6 L255.8 84.2 L256.0 81.5 L256.1 79.4 L256.2 77.4 L256.4 75.0 L256.6 72.0 L256.7 68.7 L256.9 65.5 L257.1 62.7 L257.3 60.7 L257.4 59.1 L257.6 57.7 L257.7 56.0 L257.8 53.9 L258.0 51.6 L258.1 49.2 L258.2 47.0 L258.3 44.8 L258.4 42.6 L258.6 40.6 L258.7 39.0 L258.8 37.9 L258.9 37.2 L259.1 36.7 L259.2 36.0 L259.4 35.0 L259.5 33.9 L259.7 32.9 L259.9 32.0 L260.1 31.4 L260.3 30.9 L260.6 30.5 L260.8 30.4 L261.0 30.5 L261.2 30.9 L261.5 31.4 L261.7 32.0 L262.0 32.6 L262.2 33.3 L262.5 34.1 L262.8 34.8 L263.1 35.5 L263.5 36.3 L263.9 37.0 L264.3 37.8 L264.7 38.6 L265.1 39.4 L265.5 40.1 L265.9 40.9 L266.3 41.6 L266.7 42.4 L267.1 43.1 L267.5 43.8 L267.9 44.5 L268.3 45.2 L268.6 45.8 L269.0 46.3 L269.3 46.7 L269.6 47.0 L269.9 47.2 L270.2 47.4 L270.5 47.6 L270.8 47.8 L271.1 47.9 L271.4 47.9 L271.7 47.9 L272.0 47.8 L272.2 47.6 L272.5 47.4 L272.8 47.2 L273.1 46.9 L273.3 46.6 L273.6 46.3 L273.8 46.0 L274.1 45.6 L274.3 45.2 L274.6 44.8 L274.9 44.3 L275.2 43.7 L275.6 43.1 L275.9 42.5 L276.3 41.8 L276.6 41.1 L277.0 40.4 L277.4 39.6 L277.8 38.8 L278.2 38.0 L278.6 37.2 L279.0 36.3 L279.4 35.4 L279.9 34.4 L280.3 33.4 L280.7 32.5 L281.0 31.7 L281.3 31.0 L281.6 30.3 L281.9 29.8 L282.1 29.3 L282.4 29.0 L282.6 28.8 L282.8 28.9 L283.0 29.4 L283.2 30.2 L283.4 31.3 L283.6 32.5 L283.8 33.9 L284.0 35.5 L284.1 37.2 L284.3 39.0 L284.5 40.9 L284.6 42.8 L284.7 44.9 L284.9 47.0 L285.1 49.2 L285.3 51.6 L285.4 53.9 L285.6 56.0 L285.7 57.8 L285.9 59.3 L286.0 60.9 L286.1 63.0 L286.2 65.5 L286.3 68.4 L286.4 71.5 L286.5 75.0 L286.6 78.9 L286.7 83.1 L286.8 87.6 L286.9 92.0 L287.0 96.4 L287.1 100.8 L287.2 105.3 L287.3 110.0 L287.4 114.9 L287.6 119.9 L287.7 125.0 L287.9 130.0 L288.1 135.1 L288.2 140.4 L288.4 145.4 L288.6 150.0 L288.8 154.0 L288.9 157.6 L289.1 160.9 L289.3 164.0 L289.5 167.0 L289.8 169.8 L290.1 172.2 L290.4 174.0 L290.7 175.1 L290.9 175.7 L291.2 175.9 L291.5 176.0 L291.7 175.9 L292.0 175.6 L292.2 175.2 L292.6 175.0 L293.1 175.0 L293.8 175.2 L294.4 175.5 L295.1 175.9 L295.7 176.6 L296.4 177.4 L297.0 178.2 L297.6 178.6 L298.1 178.5 L298.5 178.1 L298.9 177.5 L299.3 176.8 L299.7 175.9 L300.1 174.9 L300.6 173.8 L301.0 172.9 L301.4 172.1 L301.8 171.4 L302.3 170.8 L302.7 170.3 L303.2 169.9 L303.7 169.5 L304.2 169.3 L304.6 169.2 L304.9 169.2 L305.0 169.3 L305.2 169.6 L305.4 170.0 L305.7 170.5 L305.9 171.1 L306.2 171.9 L306.5 173.0 L306.8 174.5 L307.1 176.3 L307.4 178.2 L307.7 180.0 L308.0 181.7 L308.3 183.3 L308.6 184.8 L308.9 186.0 L309.3 186.8 L309.6 187.4 L310.0 187.8 L310.4 188.0 L310.8 188.1 L311.1 188.1 L311.5 187.9 L311.9 187.6 L312.4 187.1 L312.9 186.5 L313.4 185.8 L313.9 185.0 L314.4 184.1 L314.9 183.1 L315.4 182.1 L315.9 181.0 L316.4 179.9 L316.9 178.7 L317.4 177.6 L317.9 176.5 L318.3 175.6 L318.7 174.7 L319.0 173.9 L319.4 173.0 L319.8 172.1 L320.2 171.2 L320.6 170.4 L320.9 169.5 L321.2 168.7 L321.5 167.8 L321.7 167.0 L322.0 166.0 L322.2 164.9 L322.5 163.8 L322.7 162.5 L322.9 161.3 L323.1 160.0 L323.3 158.7 L323.4 157.3 L323.6 156.0 L323.8 154.7 L323.9 153.4 L324.0 152.1 L324.2 150.9 L324.4 149.7 L324.5 148.6 L324.7 147.6 L324.9 146.5 L325.1 145.4 L325.2 144.4 L325.4 143.4 L325.5 142.4 L325.6 141.5 L325.8 140.7 L325.9 139.8 L326.1 138.6 L326.3 136.8 L326.6 134.6 L326.9 132.5 L327.1 131.0" fill="none" stroke="#858585" stroke-width="1.85" stroke-linejoin="round" stroke-linecap="round"/>
<path d="M54.8 115.6 L55.5 127.0 L56.4 133.9 L57.1 138.6 L57.7 142.4 L58.3 146.5 L59.0 150.9 L59.6 156.0 L60.3 161.3 L61.1 166.5 L61.8 168.0 L62.6 157.0 L63.6 148.7 L64.2 152.0 L64.7 155.3 L65.6 160.3 L66.3 165.3 L67.1 170.3 L67.7 175.5 L68.5 180.3 L69.5 185.0 L70.0 186.6 L70.6 188.1 L71.6 187.0 L72.5 159.7 L73.3 193.7 L73.8 183.4 L74.5 176.5 L75.4 172.0 L76.3 170.4 L77.3 168.5 L77.9 169.7 L78.6 169.3 L79.2 170.5 L80.1 171.0 L80.9 172.7 L81.5 169.4 L82.1 166.1 L82.5 176.5 L82.9 183.4 L83.6 181.2 L84.3 179.0 L85.1 177.5 L86.0 177.3 L86.8 175.4 L87.6 175.9 L88.5 174.8 L89.3 175.3 L90.2 177.0 L90.9 190.1 L91.8 185.3 L92.7 176.2 L93.1 163.8 L93.4 150.0 L94.3 135.7 L94.8 121.9 L95.8 108.5 L96.6 95.3 L97.0 84.2 L97.8 75.3 L98.6 66.5 L99.1 60.1 L100.0 58.0 L100.5 54.2 L101.1 50.4 L101.8 45.3 L102.7 58.5 L103.3 65.5 L103.9 68.0 L104.6 70.5 L105.2 72.7 L105.8 74.8 L106.4 76.8 L107.1 78.8 L107.7 80.8 L108.5 83.2 L109.3 85.7 L110.0 88.3 L110.5 76.1 L111.0 88.3 L112.0 85.7 L113.0 82.0 L113.8 79.2 L114.5 76.3 L115.3 73.5 L116.0 71.2 L116.7 68.8 L117.6 65.0 L118.5 61.4 L119.1 51.3 L119.5 39.0 L120.4 76.3 L121.0 61.4 L121.8 63.7 L122.7 65.2 L123.2 72.8 L123.5 81.6 L124.4 92.3 L125.2 104.2 L125.9 116.8 L126.4 131.3 L127.0 145.3 L127.6 159.3 L128.2 172.1 L129.1 179.5 L129.7 201.0 L130.2 189.3 L130.8 177.6 L131.4 175.9 L132.0 175.4 L132.8 175.8 L133.5 177.9 L134.2 178.3 L135.0 180.4 L135.8 181.1 L136.5 183.4 L137.1 183.7 L137.7 185.2 L138.3 180.0 L139.0 165.3 L139.7 175.7 L140.6 174.0 L141.5 171.1 L142.1 171.5 L142.8 170.2 L143.4 170.6 L144.2 170.9 L145.0 172.9 L146.0 175.0 L146.6 178.2 L147.2 181.4 L147.8 190.2 L148.3 191.8 L149.1 163.0 L149.6 176.0 L150.2 189.0 L151.0 187.7 L151.7 185.7 L152.3 183.7 L153.2 178.9 L153.9 173.8 L154.8 163.4 L155.4 158.7 L156.1 153.3 L156.7 149.1 L157.7 156.6 L158.5 162.0 L159.2 167.2 L160.2 163.9 L161.1 159.1 L161.9 152.8 L162.5 147.1 L163.1 142.7 L163.8 138.6 L164.4 133.8 L164.9 128.1 L165.8 119.0 L166.6 105.1 L167.1 115.5 L167.7 126.0 L168.3 116.2 L168.9 106.3 L169.5 107.0 L170.2 108.8 L170.8 109.1 L171.4 111.0 L172.1 111.2 L172.7 113.1 L173.6 113.3 L174.4 115.2 L175.3 115.4 L175.9 115.4 L176.6 113.7 L177.2 113.3 L177.8 127.2 L178.4 120.9 L179.0 114.6 L179.8 116.4 L180.7 116.9 L181.5 119.1 L182.2 119.3 L183.0 121.2 L183.8 121.5 L184.5 122.9 L185.1 118.5 L185.6 114.0 L186.2 111.9 L186.8 109.8 L187.1 100.0 L187.6 90.5 L186.9 87.3 L186.2 84.2 L186.8 82.5 L187.5 80.9 L188.1 79.2 L189.0 71.2 L190.0 66.6 L190.9 63.6 L191.9 66.6 L192.9 71.2 L193.8 79.2 L194.4 80.9 L195.1 82.5 L195.7 84.2 L195.0 87.3 L194.3 90.5 L194.8 100.0 L195.1 109.8 L195.7 111.9 L196.3 114.0 L196.8 118.5 L197.4 122.9 L198.1 121.5 L198.9 121.2 L199.6 119.3 L200.4 119.1 L201.2 116.9 L202.1 116.4 L202.9 114.6 L203.5 120.9 L204.1 127.2 L204.7 113.3 L205.3 113.7 L206.0 115.4 L206.6 115.4 L207.5 115.2 L208.3 113.3 L209.2 113.1 L209.8 111.2 L210.5 111.0 L211.1 109.1 L211.7 108.8 L212.4 107.0 L213.0 106.3 L213.6 116.2 L214.2 126.0 L214.8 115.5 L215.3 105.1 L216.1 119.0 L217.0 128.1 L217.5 133.8 L218.1 138.6 L218.8 142.7 L219.4 147.1 L220.0 152.8 L220.8 159.1 L221.7 163.9 L222.7 167.2 L223.4 162.0 L224.2 156.6 L225.2 149.1 L225.8 153.3 L226.5 158.7 L227.1 163.4 L228.0 173.8 L228.7 178.9 L229.6 183.7 L230.2 185.7 L230.9 187.7 L231.7 189.0 L232.2 176.0 L232.8 163.0 L233.6 191.8 L234.1 190.2 L234.7 181.4 L235.3 178.2 L235.9 175.0 L236.9 172.9 L237.7 170.9 L238.5 170.6 L239.1 170.2 L239.8 171.5 L240.4 171.1 L241.3 174.0 L242.2 175.7 L242.9 165.3 L243.6 180.0 L244.2 185.2 L244.8 183.7 L245.4 183.4 L246.1 181.1 L246.9 180.4 L247.6 178.3 L248.4 177.9 L249.1 175.8 L249.9 175.4 L250.5 175.9 L251.1 177.6 L251.6 189.3 L252.2 201.0 L252.8 179.5 L253.7 172.1 L254.3 159.3 L254.9 145.3 L255.5 131.3 L256.0 116.8 L256.7 104.2 L257.5 92.3 L258.4 81.6 L258.7 72.8 L259.2 65.2 L260.0 63.7 L260.9 61.4 L261.5 76.3 L262.4 39.0 L262.8 51.3 L263.4 61.4 L264.3 65.0 L265.2 68.8 L265.9 71.2 L266.6 73.5 L267.4 76.3 L268.1 79.2 L268.9 82.0 L269.9 85.7 L270.9 88.3 L271.4 76.1 L271.9 88.3 L272.6 85.7 L273.4 83.2 L274.2 80.8 L274.8 78.8 L275.5 76.8 L276.1 74.8 L276.7 72.7 L277.3 70.5 L277.9 68.0 L278.6 65.5 L279.2 58.5 L280.1 45.3 L280.8 50.4 L281.3 54.2 L281.9 58.0 L282.8 60.1 L283.3 66.5 L284.1 75.3 L284.9 84.2 L285.3 95.3 L286.1 108.5 L287.1 121.9 L287.6 135.7 L288.5 150.0 L288.8 163.8 L289.2 176.2 L290.1 185.3 L291.0 190.1 L291.7 177.0 L292.6 175.3 L293.4 174.8 L294.3 175.9 L295.1 175.4 L295.9 177.3 L296.8 177.5 L297.6 179.0 L298.3 181.2 L299.0 183.4 L299.4 176.5 L299.8 166.1 L300.4 169.4 L301.0 172.7 L301.9 171.0 L302.7 170.5 L303.3 169.3 L304.0 169.7 L304.6 168.5 L305.6 170.4 L306.5 172.0 L307.4 176.5 L308.1 183.4 L308.6 193.7 L309.4 159.7 L310.3 187.0 L311.3 188.1 L311.8 186.6 L312.4 185.0 L313.4 180.3 L314.2 175.5 L314.8 170.3 L315.6 165.3 L316.3 160.3 L317.2 155.3 L317.8 152.0 L318.3 148.7 L319.3 157.0 L320.1 168.0 L320.8 166.5 L321.6 161.3 L322.3 156.0 L322.9 150.9 L323.6 146.5 L324.2 142.4 L324.8 138.6 L325.5 133.9 L326.4 127.0 L327.1 115.6" fill="none" stroke="#000" stroke-width="0.8" stroke-linejoin="round"/>
<g fill="#000"><circle cx="54.8" cy="115.6" r="1.5"/><circle cx="55.5" cy="127.0" r="1.5"/><circle cx="56.4" cy="133.9" r="1.5"/><circle cx="57.1" cy="138.6" r="1.5"/><circle cx="57.7" cy="142.4" r="1.5"/><circle cx="58.3" cy="146.5" r="1.5"/><circle cx="59.0" cy="150.9" r="1.5"/><circle cx="59.6" cy="156.0" r="1.5"/><circle cx="60.3" cy="161.3" r="1.5"/><circle cx="61.1" cy="166.5" r="1.5"/><circle cx="61.8" cy="168.0" r="1.5"/><circle cx="62.6" cy="157.0" r="1.5"/><circle cx="63.6" cy="148.7" r="1.5"/><circle cx="64.2" cy="152.0" r="1.5"/><circle cx="64.7" cy="155.3" r="1.5"/><circle cx="65.6" cy="160.3" r="1.5"/><circle cx="66.3" cy="165.3" r="1.5"/><circle cx="67.1" cy="170.3" r="1.5"/><circle cx="67.7" cy="175.5" r="1.5"/><circle cx="68.5" cy="180.3" r="1.5"/><circle cx="69.5" cy="185.0" r="1.5"/><circle cx="70.0" cy="186.6" r="1.5"/><circle cx="70.6" cy="188.1" r="1.5"/><circle cx="71.6" cy="187.0" r="1.5"/><circle cx="72.5" cy="159.7" r="1.5"/><circle cx="73.3" cy="193.7" r="1.5"/><circle cx="73.8" cy="183.4" r="1.5"/><circle cx="74.5" cy="176.5" r="1.5"/><circle cx="75.4" cy="172.0" r="1.5"/><circle cx="76.3" cy="170.4" r="1.5"/><circle cx="77.3" cy="168.5" r="1.5"/><circle cx="77.9" cy="169.7" r="1.5"/><circle cx="78.6" cy="169.3" r="1.5"/><circle cx="79.2" cy="170.5" r="1.5"/><circle cx="80.1" cy="171.0" r="1.5"/><circle cx="80.9" cy="172.7" r="1.5"/><circle cx="81.5" cy="169.4" r="1.5"/><circle cx="82.1" cy="166.1" r="1.5"/><circle cx="82.5" cy="176.5" r="1.5"/><circle cx="82.9" cy="183.4" r="1.5"/><circle cx="83.6" cy="181.2" r="1.5"/><circle cx="84.3" cy="179.0" r="1.5"/><circle cx="85.1" cy="177.5" r="1.5"/><circle cx="86.0" cy="177.3" r="1.5"/><circle cx="86.8" cy="175.4" r="1.5"/><circle cx="87.6" cy="175.9" r="1.5"/><circle cx="88.5" cy="174.8" r="1.5"/><circle cx="89.3" cy="175.3" r="1.5"/><circle cx="90.2" cy="177.0" r="1.5"/><circle cx="90.9" cy="190.1" r="1.5"/><circle cx="91.8" cy="185.3" r="1.5"/><circle cx="92.7" cy="176.2" r="1.5"/><circle cx="93.1" cy="163.8" r="1.5"/><circle cx="93.4" cy="150.0" r="1.5"/><circle cx="94.3" cy="135.7" r="1.5"/><circle cx="94.8" cy="121.9" r="1.5"/><circle cx="95.8" cy="108.5" r="1.5"/><circle cx="96.6" cy="95.3" r="1.5"/><circle cx="97.0" cy="84.2" r="1.5"/><circle cx="97.8" cy="75.3" r="1.5"/><circle cx="98.6" cy="66.5" r="1.5"/><circle cx="99.1" cy="60.1" r="1.5"/><circle cx="100.0" cy="58.0" r="1.5"/><circle cx="100.5" cy="54.2" r="1.5"/><circle cx="101.1" cy="50.4" r="1.5"/><circle cx="101.8" cy="45.3" r="1.5"/><circle cx="102.7" cy="58.5" r="1.5"/><circle cx="103.3" cy="65.5" r="1.5"/><circle cx="103.9" cy="68.0" r="1.5"/><circle cx="104.6" cy="70.5" r="1.5"/><circle cx="105.2" cy="72.7" r="1.5"/><circle cx="105.8" cy="74.8" r="1.5"/><circle cx="106.4" cy="76.8" r="1.5"/><circle cx="107.1" cy="78.8" r="1.5"/><circle cx="107.7" cy="80.8" r="1.5"/><circle cx="108.5" cy="83.2" r="1.5"/><circle cx="109.3" cy="85.7" r="1.5"/><circle cx="110.0" cy="88.3" r="1.5"/><circle cx="110.5" cy="76.1" r="1.5"/><circle cx="111.0" cy="88.3" r="1.5"/><circle cx="112.0" cy="85.7" r="1.5"/><circle cx="113.0" cy="82.0" r="1.5"/><circle cx="113.8" cy="79.2" r="1.5"/><circle cx="114.5" cy="76.3" r="1.5"/><circle cx="115.3" cy="73.5" r="1.5"/><circle cx="116.0" cy="71.2" r="1.5"/><circle cx="116.7" cy="68.8" r="1.5"/><circle cx="117.6" cy="65.0" r="1.5"/><circle cx="118.5" cy="61.4" r="1.5"/><circle cx="119.1" cy="51.3" r="1.5"/><circle cx="119.5" cy="39.0" r="1.5"/><circle cx="120.4" cy="76.3" r="1.5"/><circle cx="121.0" cy="61.4" r="1.5"/><circle cx="121.8" cy="63.7" r="1.5"/><circle cx="122.7" cy="65.2" r="1.5"/><circle cx="123.2" cy="72.8" r="1.5"/><circle cx="123.5" cy="81.6" r="1.5"/><circle cx="124.4" cy="92.3" r="1.5"/><circle cx="125.2" cy="104.2" r="1.5"/><circle cx="125.9" cy="116.8" r="1.5"/><circle cx="126.4" cy="131.3" r="1.5"/><circle cx="127.0" cy="145.3" r="1.5"/><circle cx="127.6" cy="159.3" r="1.5"/><circle cx="128.2" cy="172.1" r="1.5"/><circle cx="129.1" cy="179.5" r="1.5"/><circle cx="129.7" cy="201.0" r="1.5"/><circle cx="130.2" cy="189.3" r="1.5"/><circle cx="130.8" cy="177.6" r="1.5"/><circle cx="131.4" cy="175.9" r="1.5"/><circle cx="132.0" cy="175.4" r="1.5"/><circle cx="132.8" cy="175.8" r="1.5"/><circle cx="133.5" cy="177.9" r="1.5"/><circle cx="134.2" cy="178.3" r="1.5"/><circle cx="135.0" cy="180.4" r="1.5"/><circle cx="135.8" cy="181.1" r="1.5"/><circle cx="136.5" cy="183.4" r="1.5"/><circle cx="137.1" cy="183.7" r="1.5"/><circle cx="137.7" cy="185.2" r="1.5"/><circle cx="138.3" cy="180.0" r="1.5"/><circle cx="139.0" cy="165.3" r="1.5"/><circle cx="139.7" cy="175.7" r="1.5"/><circle cx="140.6" cy="174.0" r="1.5"/><circle cx="141.5" cy="171.1" r="1.5"/><circle cx="142.1" cy="171.5" r="1.5"/><circle cx="142.8" cy="170.2" r="1.5"/><circle cx="143.4" cy="170.6" r="1.5"/><circle cx="144.2" cy="170.9" r="1.5"/><circle cx="145.0" cy="172.9" r="1.5"/><circle cx="146.0" cy="175.0" r="1.5"/><circle cx="146.6" cy="178.2" r="1.5"/><circle cx="147.2" cy="181.4" r="1.5"/><circle cx="147.8" cy="190.2" r="1.5"/><circle cx="148.3" cy="191.8" r="1.5"/><circle cx="149.1" cy="163.0" r="1.5"/><circle cx="149.6" cy="176.0" r="1.5"/><circle cx="150.2" cy="189.0" r="1.5"/><circle cx="151.0" cy="187.7" r="1.5"/><circle cx="151.7" cy="185.7" r="1.5"/><circle cx="152.3" cy="183.7" r="1.5"/><circle cx="153.2" cy="178.9" r="1.5"/><circle cx="153.9" cy="173.8" r="1.5"/><circle cx="154.8" cy="163.4" r="1.5"/><circle cx="155.4" cy="158.7" r="1.5"/><circle cx="156.1" cy="153.3" r="1.5"/><circle cx="156.7" cy="149.1" r="1.5"/><circle cx="157.7" cy="156.6" r="1.5"/><circle cx="158.5" cy="162.0" r="1.5"/><circle cx="159.2" cy="167.2" r="1.5"/><circle cx="160.2" cy="163.9" r="1.5"/><circle cx="161.1" cy="159.1" r="1.5"/><circle cx="161.9" cy="152.8" r="1.5"/><circle cx="162.5" cy="147.1" r="1.5"/><circle cx="163.1" cy="142.7" r="1.5"/><circle cx="163.8" cy="138.6" r="1.5"/><circle cx="164.4" cy="133.8" r="1.5"/><circle cx="164.9" cy="128.1" r="1.5"/><circle cx="165.8" cy="119.0" r="1.5"/><circle cx="166.6" cy="105.1" r="1.5"/><circle cx="167.1" cy="115.5" r="1.5"/><circle cx="167.7" cy="126.0" r="1.5"/><circle cx="168.3" cy="116.2" r="1.5"/><circle cx="168.9" cy="106.3" r="1.5"/><circle cx="169.5" cy="107.0" r="1.5"/><circle cx="170.2" cy="108.8" r="1.5"/><circle cx="170.8" cy="109.1" r="1.5"/><circle cx="171.4" cy="111.0" r="1.5"/><circle cx="172.1" cy="111.2" r="1.5"/><circle cx="172.7" cy="113.1" r="1.5"/><circle cx="173.6" cy="113.3" r="1.5"/><circle cx="174.4" cy="115.2" r="1.5"/><circle cx="175.3" cy="115.4" r="1.5"/><circle cx="175.9" cy="115.4" r="1.5"/><circle cx="176.6" cy="113.7" r="1.5"/><circle cx="177.2" cy="113.3" r="1.5"/><circle cx="177.8" cy="127.2" r="1.5"/><circle cx="178.4" cy="120.9" r="1.5"/><circle cx="179.0" cy="114.6" r="1.5"/><circle cx="179.8" cy="116.4" r="1.5"/><circle cx="180.7" cy="116.9" r="1.5"/><circle cx="181.5" cy="119.1" r="1.5"/><circle cx="182.2" cy="119.3" r="1.5"/><circle cx="183.0" cy="121.2" r="1.5"/><circle cx="183.8" cy="121.5" r="1.5"/><circle cx="184.5" cy="122.9" r="1.5"/><circle cx="185.1" cy="118.5" r="1.5"/><circle cx="185.6" cy="114.0" r="1.5"/><circle cx="186.2" cy="111.9" r="1.5"/><circle cx="186.8" cy="109.8" r="1.5"/><circle cx="187.1" cy="100.0" r="1.5"/><circle cx="187.6" cy="90.5" r="1.5"/><circle cx="186.9" cy="87.3" r="1.5"/><circle cx="186.2" cy="84.2" r="1.5"/><circle cx="186.8" cy="82.5" r="1.5"/><circle cx="187.5" cy="80.9" r="1.5"/><circle cx="188.1" cy="79.2" r="1.5"/><circle cx="189.0" cy="71.2" r="1.5"/><circle cx="190.0" cy="66.6" r="1.5"/><circle cx="190.9" cy="63.6" r="1.5"/><circle cx="191.9" cy="66.6" r="1.5"/><circle cx="192.9" cy="71.2" r="1.5"/><circle cx="193.8" cy="79.2" r="1.5"/><circle cx="194.4" cy="80.9" r="1.5"/><circle cx="195.1" cy="82.5" r="1.5"/><circle cx="195.7" cy="84.2" r="1.5"/><circle cx="195.0" cy="87.3" r="1.5"/><circle cx="194.3" cy="90.5" r="1.5"/><circle cx="194.8" cy="100.0" r="1.5"/><circle cx="195.1" cy="109.8" r="1.5"/><circle cx="195.7" cy="111.9" r="1.5"/><circle cx="196.3" cy="114.0" r="1.5"/><circle cx="196.8" cy="118.5" r="1.5"/><circle cx="197.4" cy="122.9" r="1.5"/><circle cx="198.1" cy="121.5" r="1.5"/><circle cx="198.9" cy="121.2" r="1.5"/><circle cx="199.6" cy="119.3" r="1.5"/><circle cx="200.4" cy="119.1" r="1.5"/><circle cx="201.2" cy="116.9" r="1.5"/><circle cx="202.1" cy="116.4" r="1.5"/><circle cx="202.9" cy="114.6" r="1.5"/><circle cx="203.5" cy="120.9" r="1.5"/><circle cx="204.1" cy="127.2" r="1.5"/><circle cx="204.7" cy="113.3" r="1.5"/><circle cx="205.3" cy="113.7" r="1.5"/><circle cx="206.0" cy="115.4" r="1.5"/><circle cx="206.6" cy="115.4" r="1.5"/><circle cx="207.5" cy="115.2" r="1.5"/><circle cx="208.3" cy="113.3" r="1.5"/><circle cx="209.2" cy="113.1" r="1.5"/><circle cx="209.8" cy="111.2" r="1.5"/><circle cx="210.5" cy="111.0" r="1.5"/><circle cx="211.1" cy="109.1" r="1.5"/><circle cx="211.7" cy="108.8" r="1.5"/><circle cx="212.4" cy="107.0" r="1.5"/><circle cx="213.0" cy="106.3" r="1.5"/><circle cx="213.6" cy="116.2" r="1.5"/><circle cx="214.2" cy="126.0" r="1.5"/><circle cx="214.8" cy="115.5" r="1.5"/><circle cx="215.3" cy="105.1" r="1.5"/><circle cx="216.1" cy="119.0" r="1.5"/><circle cx="217.0" cy="128.1" r="1.5"/><circle cx="217.5" cy="133.8" r="1.5"/><circle cx="218.1" cy="138.6" r="1.5"/><circle cx="218.8" cy="142.7" r="1.5"/><circle cx="219.4" cy="147.1" r="1.5"/><circle cx="220.0" cy="152.8" r="1.5"/><circle cx="220.8" cy="159.1" r="1.5"/><circle cx="221.7" cy="163.9" r="1.5"/><circle cx="222.7" cy="167.2" r="1.5"/><circle cx="223.4" cy="162.0" r="1.5"/><circle cx="224.2" cy="156.6" r="1.5"/><circle cx="225.2" cy="149.1" r="1.5"/><circle cx="225.8" cy="153.3" r="1.5"/><circle cx="226.5" cy="158.7" r="1.5"/><circle cx="227.1" cy="163.4" r="1.5"/><circle cx="228.0" cy="173.8" r="1.5"/><circle cx="228.7" cy="178.9" r="1.5"/><circle cx="229.6" cy="183.7" r="1.5"/><circle cx="230.2" cy="185.7" r="1.5"/><circle cx="230.9" cy="187.7" r="1.5"/><circle cx="231.7" cy="189.0" r="1.5"/><circle cx="232.2" cy="176.0" r="1.5"/><circle cx="232.8" cy="163.0" r="1.5"/><circle cx="233.6" cy="191.8" r="1.5"/><circle cx="234.1" cy="190.2" r="1.5"/><circle cx="234.7" cy="181.4" r="1.5"/><circle cx="235.3" cy="178.2" r="1.5"/><circle cx="235.9" cy="175.0" r="1.5"/><circle cx="236.9" cy="172.9" r="1.5"/><circle cx="237.7" cy="170.9" r="1.5"/><circle cx="238.5" cy="170.6" r="1.5"/><circle cx="239.1" cy="170.2" r="1.5"/><circle cx="239.8" cy="171.5" r="1.5"/><circle cx="240.4" cy="171.1" r="1.5"/><circle cx="241.3" cy="174.0" r="1.5"/><circle cx="242.2" cy="175.7" r="1.5"/><circle cx="242.9" cy="165.3" r="1.5"/><circle cx="243.6" cy="180.0" r="1.5"/><circle cx="244.2" cy="185.2" r="1.5"/><circle cx="244.8" cy="183.7" r="1.5"/><circle cx="245.4" cy="183.4" r="1.5"/><circle cx="246.1" cy="181.1" r="1.5"/><circle cx="246.9" cy="180.4" r="1.5"/><circle cx="247.6" cy="178.3" r="1.5"/><circle cx="248.4" cy="177.9" r="1.5"/><circle cx="249.1" cy="175.8" r="1.5"/><circle cx="249.9" cy="175.4" r="1.5"/><circle cx="250.5" cy="175.9" r="1.5"/><circle cx="251.1" cy="177.6" r="1.5"/><circle cx="251.6" cy="189.3" r="1.5"/><circle cx="252.2" cy="201.0" r="1.5"/><circle cx="252.8" cy="179.5" r="1.5"/><circle cx="253.7" cy="172.1" r="1.5"/><circle cx="254.3" cy="159.3" r="1.5"/><circle cx="254.9" cy="145.3" r="1.5"/><circle cx="255.5" cy="131.3" r="1.5"/><circle cx="256.0" cy="116.8" r="1.5"/><circle cx="256.7" cy="104.2" r="1.5"/><circle cx="257.5" cy="92.3" r="1.5"/><circle cx="258.4" cy="81.6" r="1.5"/><circle cx="258.7" cy="72.8" r="1.5"/><circle cx="259.2" cy="65.2" r="1.5"/><circle cx="260.0" cy="63.7" r="1.5"/><circle cx="260.9" cy="61.4" r="1.5"/><circle cx="261.5" cy="76.3" r="1.5"/><circle cx="262.4" cy="39.0" r="1.5"/><circle cx="262.8" cy="51.3" r="1.5"/><circle cx="263.4" cy="61.4" r="1.5"/><circle cx="264.3" cy="65.0" r="1.5"/><circle cx="265.2" cy="68.8" r="1.5"/><circle cx="265.9" cy="71.2" r="1.5"/><circle cx="266.6" cy="73.5" r="1.5"/><circle cx="267.4" cy="76.3" r="1.5"/><circle cx="268.1" cy="79.2" r="1.5"/><circle cx="268.9" cy="82.0" r="1.5"/><circle cx="269.9" cy="85.7" r="1.5"/><circle cx="270.9" cy="88.3" r="1.5"/><circle cx="271.4" cy="76.1" r="1.5"/><circle cx="271.9" cy="88.3" r="1.5"/><circle cx="272.6" cy="85.7" r="1.5"/><circle cx="273.4" cy="83.2" r="1.5"/><circle cx="274.2" cy="80.8" r="1.5"/><circle cx="274.8" cy="78.8" r="1.5"/><circle cx="275.5" cy="76.8" r="1.5"/><circle cx="276.1" cy="74.8" r="1.5"/><circle cx="276.7" cy="72.7" r="1.5"/><circle cx="277.3" cy="70.5" r="1.5"/><circle cx="277.9" cy="68.0" r="1.5"/><circle cx="278.6" cy="65.5" r="1.5"/><circle cx="279.2" cy="58.5" r="1.5"/><circle cx="280.1" cy="45.3" r="1.5"/><circle cx="280.8" cy="50.4" r="1.5"/><circle cx="281.3" cy="54.2" r="1.5"/><circle cx="281.9" cy="58.0" r="1.5"/><circle cx="282.8" cy="60.1" r="1.5"/><circle cx="283.3" cy="66.5" r="1.5"/><circle cx="284.1" cy="75.3" r="1.5"/><circle cx="284.9" cy="84.2" r="1.5"/><circle cx="285.3" cy="95.3" r="1.5"/><circle cx="286.1" cy="108.5" r="1.5"/><circle cx="287.1" cy="121.9" r="1.5"/><circle cx="287.6" cy="135.7" r="1.5"/><circle cx="288.5" cy="150.0" r="1.5"/><circle cx="288.8" cy="163.8" r="1.5"/><circle cx="289.2" cy="176.2" r="1.5"/><circle cx="290.1" cy="185.3" r="1.5"/><circle cx="291.0" cy="190.1" r="1.5"/><circle cx="291.7" cy="177.0" r="1.5"/><circle cx="292.6" cy="175.3" r="1.5"/><circle cx="293.4" cy="174.8" r="1.5"/><circle cx="294.3" cy="175.9" r="1.5"/><circle cx="295.1" cy="175.4" r="1.5"/><circle cx="295.9" cy="177.3" r="1.5"/><circle cx="296.8" cy="177.5" r="1.5"/><circle cx="297.6" cy="179.0" r="1.5"/><circle cx="298.3" cy="181.2" r="1.5"/><circle cx="299.0" cy="183.4" r="1.5"/><circle cx="299.4" cy="176.5" r="1.5"/><circle cx="299.8" cy="166.1" r="1.5"/><circle cx="300.4" cy="169.4" r="1.5"/><circle cx="301.0" cy="172.7" r="1.5"/><circle cx="301.9" cy="171.0" r="1.5"/><circle cx="302.7" cy="170.5" r="1.5"/><circle cx="303.3" cy="169.3" r="1.5"/><circle cx="304.0" cy="169.7" r="1.5"/><circle cx="304.6" cy="168.5" r="1.5"/><circle cx="305.6" cy="170.4" r="1.5"/><circle cx="306.5" cy="172.0" r="1.5"/><circle cx="307.4" cy="176.5" r="1.5"/><circle cx="308.1" cy="183.4" r="1.5"/><circle cx="308.6" cy="193.7" r="1.5"/><circle cx="309.4" cy="159.7" r="1.5"/><circle cx="310.3" cy="187.0" r="1.5"/><circle cx="311.3" cy="188.1" r="1.5"/><circle cx="311.8" cy="186.6" r="1.5"/><circle cx="312.4" cy="185.0" r="1.5"/><circle cx="313.4" cy="180.3" r="1.5"/><circle cx="314.2" cy="175.5" r="1.5"/><circle cx="314.8" cy="170.3" r="1.5"/><circle cx="315.6" cy="165.3" r="1.5"/><circle cx="316.3" cy="160.3" r="1.5"/><circle cx="317.2" cy="155.3" r="1.5"/><circle cx="317.8" cy="152.0" r="1.5"/><circle cx="318.3" cy="148.7" r="1.5"/><circle cx="319.3" cy="157.0" r="1.5"/><circle cx="320.1" cy="168.0" r="1.5"/><circle cx="320.8" cy="166.5" r="1.5"/><circle cx="321.6" cy="161.3" r="1.5"/><circle cx="322.3" cy="156.0" r="1.5"/><circle cx="322.9" cy="150.9" r="1.5"/><circle cx="323.6" cy="146.5" r="1.5"/><circle cx="324.2" cy="142.4" r="1.5"/><circle cx="324.8" cy="138.6" r="1.5"/><circle cx="325.5" cy="133.9" r="1.5"/><circle cx="326.4" cy="127.0" r="1.5"/><circle cx="327.1" cy="115.6" r="1.5"/></g>
</g>
<path d="M54.7 3.5 H327.2 V213.4 H54.7 Z" fill="none" stroke="#1a1a1a" stroke-width="1"/>
<text x="50.0" y="7.5" text-anchor="end" class="tk">2.304</text>
<text x="50.0" y="37.5" text-anchor="end" class="tk">2.302</text>
<text x="50.0" y="67.5" text-anchor="end" class="tk">2.3</text>
<text x="50.0" y="97.5" text-anchor="end" class="tk">2.298</text>
<text x="50.0" y="127.5" text-anchor="end" class="tk">2.296</text>
<text x="50.0" y="157.5" text-anchor="end" class="tk">2.294</text>
<text x="50.0" y="187.5" text-anchor="end" class="tk">2.292</text>
<text x="50.0" y="217.5" text-anchor="end" class="tk">2.29</text>
<text x="54.7" y="228.2" text-anchor="middle" class="tk">-50</text>
<text x="190.9" y="228.2" text-anchor="middle" class="tk">0</text>
<text x="327.2" y="228.2" text-anchor="middle" class="tk">50</text>
<path d="M54.7 3.5 h3 M327.2 3.5 h-3 M54.7 33.5 h3 M327.2 33.5 h-3 M54.7 63.5 h3 M327.2 63.5 h-3 M54.7 93.5 h3 M327.2 93.5 h-3 M54.7 123.5 h3 M327.2 123.5 h-3 M54.7 153.5 h3 M327.2 153.5 h-3 M54.7 183.5 h3 M327.2 183.5 h-3 M54.7 213.5 h3 M327.2 213.5 h-3 M54.7 213.4 v-3 M54.7 3.5 v3 M190.9 213.4 v-3 M190.9 3.5 v3 M327.2 213.4 v-3 M327.2 3.5 v3" stroke="#1a1a1a" stroke-width="0.9" fill="none"/>
<clipPath id="c2"><rect x="405.0" y="2.0" width="276.2" height="212.9"/></clipPath>
<g clip-path="url(#c2)">
<path d="M406.8 76.0 L408.0 74.0 L409.5 68.0 L411.0 60.0 L412.5 54.0 L413.4 52.0 L414.5 53.5 L416.0 55.5 L417.5 52.5 L419.0 49.0 L421.0 45.0 L422.9 49.5 L424.8 43.0 L427.9 38.5 L430.5 37.2 L433.0 40.4 L435.2 37.2 L436.8 43.5 L438.5 44.5 L440.0 47.6 L441.5 47.0 L442.5 46.3 L444.4 49.5 L445.1 59.0 L446.0 70.0 L446.9 85.0 L447.7 100.0 L448.5 115.0 L449.3 128.0 L450.8 137.6 L452.3 142.5 L453.5 140.5 L454.8 137.5 L457.4 131.8 L460.0 126.0 L461.5 122.6 L462.5 120.3 L463.5 122.6 L465.0 126.0 L467.6 131.8 L470.2 137.5 L471.5 140.5 L472.6 142.0 L474.0 137.0 L475.0 128.0 L475.9 115.0 L476.7 100.0 L477.5 85.0 L478.3 70.0 L479.2 55.8 L480.3 50.0 L481.8 48.3 L485.6 46.4 L488.1 41.3 L490.7 38.2 L492.5 37.0 L494.5 36.9 L496.5 38.2 L498.3 40.7 L500.8 43.9 L502.0 48.3 L503.5 46.0 L505.2 44.5 L507.0 47.0 L509.0 51.0 L510.9 54.0 L512.5 62.0 L514.0 72.0 L515.5 80.0 L517.0 86.0 L518.5 87.0 L520.5 89.5 L522.5 85.0 L524.5 81.0 L526.4 79.0 L528.5 81.0 L531.0 86.0 L533.4 91.6 L534.6 94.3 L536.0 98.0 L537.2 99.4 L538.5 98.5 L539.7 96.9 L541.0 93.0 L542.0 90.0 L542.9 88.5 L543.7 90.0 L544.7 93.0 L546.0 96.9 L547.2 98.5 L548.5 99.4 L549.7 98.0 L551.1 94.3 L552.3 91.6 L554.7 86.0 L557.2 81.0 L559.3 79.0 L561.2 81.0 L563.2 85.0 L565.2 89.5 L567.2 87.0 L568.7 86.0 L570.2 80.0 L571.7 72.0 L573.2 62.0 L574.8 54.0 L576.7 51.0 L578.7 47.0 L580.5 44.5 L582.2 46.0 L583.7 48.3 L584.9 43.9 L587.4 40.7 L589.2 38.2 L591.2 36.9 L593.2 37.0 L595.0 38.2 L597.6 41.3 L600.1 46.4 L603.9 48.3 L605.4 50.0 L606.5 55.8 L607.4 70.0 L608.2 85.0 L609.0 100.0 L609.8 115.0 L610.7 128.0 L611.7 137.0 L613.1 142.0 L614.2 140.5 L615.5 137.5 L618.1 131.8 L620.7 126.0 L622.2 122.6 L623.2 120.3 L624.2 122.6 L625.7 126.0 L628.3 131.8 L630.9 137.5 L632.2 140.5 L633.4 142.5 L634.9 137.6 L636.4 128.0 L637.2 115.0 L638.0 100.0 L638.8 85.0 L639.7 70.0 L640.6 59.0 L641.3 49.5 L643.2 46.3 L644.2 47.0 L645.7 47.6 L647.2 44.5 L648.9 43.5 L650.5 37.2 L652.7 40.4 L655.2 37.2 L657.8 38.5 L660.9 43.0 L662.8 49.5 L664.7 45.0 L666.7 49.0 L668.2 52.5 L669.7 55.5 L671.2 53.5 L672.3 52.0 L673.2 54.0 L674.7 60.0 L676.2 68.0 L677.7 74.0 L678.9 76.0" fill="none" stroke="#cfcfcf" stroke-width="1" stroke-linejoin="round"/>
<g fill="#cfcfcf"><circle cx="406.8" cy="76.0" r="1.5"/><circle cx="407.4" cy="75.0" r="1.5"/><circle cx="408.0" cy="74.0" r="1.5"/><circle cx="408.8" cy="71.0" r="1.5"/><circle cx="409.5" cy="68.0" r="1.5"/><circle cx="410.2" cy="64.0" r="1.5"/><circle cx="411.0" cy="60.0" r="1.5"/><circle cx="411.8" cy="57.0" r="1.5"/><circle cx="412.5" cy="54.0" r="1.5"/><circle cx="413.4" cy="52.0" r="1.5"/><circle cx="413.9" cy="52.8" r="1.5"/><circle cx="414.5" cy="53.5" r="1.5"/><circle cx="415.2" cy="54.5" r="1.5"/><circle cx="416.0" cy="55.5" r="1.5"/><circle cx="416.8" cy="54.0" r="1.5"/><circle cx="417.5" cy="52.5" r="1.5"/><circle cx="418.2" cy="50.8" r="1.5"/><circle cx="419.0" cy="49.0" r="1.5"/><circle cx="419.7" cy="47.7" r="1.5"/><circle cx="420.3" cy="46.3" r="1.5"/><circle cx="421.0" cy="45.0" r="1.5"/><circle cx="421.6" cy="46.5" r="1.5"/><circle cx="422.3" cy="48.0" r="1.5"/><circle cx="422.9" cy="49.5" r="1.5"/><circle cx="423.5" cy="47.3" r="1.5"/><circle cx="424.2" cy="45.2" r="1.5"/><circle cx="424.8" cy="43.0" r="1.5"/><circle cx="425.6" cy="41.9" r="1.5"/><circle cx="426.4" cy="40.8" r="1.5"/><circle cx="427.1" cy="39.6" r="1.5"/><circle cx="427.9" cy="38.5" r="1.5"/><circle cx="428.8" cy="38.1" r="1.5"/><circle cx="429.6" cy="37.6" r="1.5"/><circle cx="430.5" cy="37.2" r="1.5"/><circle cx="431.3" cy="38.3" r="1.5"/><circle cx="432.2" cy="39.3" r="1.5"/><circle cx="433.0" cy="40.4" r="1.5"/><circle cx="433.7" cy="39.3" r="1.5"/><circle cx="434.5" cy="38.3" r="1.5"/><circle cx="435.2" cy="37.2" r="1.5"/><circle cx="436.0" cy="40.4" r="1.5"/><circle cx="436.8" cy="43.5" r="1.5"/><circle cx="437.6" cy="44.0" r="1.5"/><circle cx="438.5" cy="44.5" r="1.5"/><circle cx="439.2" cy="46.0" r="1.5"/><circle cx="440.0" cy="47.6" r="1.5"/><circle cx="440.8" cy="47.3" r="1.5"/><circle cx="441.5" cy="47.0" r="1.5"/><circle cx="442.5" cy="46.3" r="1.5"/><circle cx="443.1" cy="47.4" r="1.5"/><circle cx="443.8" cy="48.4" r="1.5"/><circle cx="444.4" cy="49.5" r="1.5"/><circle cx="445.1" cy="59.0" r="1.5"/><circle cx="446.0" cy="70.0" r="1.5"/><circle cx="446.9" cy="85.0" r="1.5"/><circle cx="447.7" cy="100.0" r="1.5"/><circle cx="448.5" cy="115.0" r="1.5"/><circle cx="449.3" cy="128.0" r="1.5"/><circle cx="450.1" cy="132.8" r="1.5"/><circle cx="450.8" cy="137.6" r="1.5"/><circle cx="451.6" cy="140.1" r="1.5"/><circle cx="452.3" cy="142.5" r="1.5"/><circle cx="452.9" cy="141.5" r="1.5"/><circle cx="453.5" cy="140.5" r="1.5"/><circle cx="454.1" cy="139.0" r="1.5"/><circle cx="454.8" cy="137.5" r="1.5"/><circle cx="455.7" cy="135.6" r="1.5"/><circle cx="456.5" cy="133.7" r="1.5"/><circle cx="457.4" cy="131.8" r="1.5"/><circle cx="458.3" cy="129.9" r="1.5"/><circle cx="459.1" cy="127.9" r="1.5"/><circle cx="460.0" cy="126.0" r="1.5"/><circle cx="460.8" cy="124.3" r="1.5"/><circle cx="461.5" cy="122.6" r="1.5"/><circle cx="462.5" cy="120.3" r="1.5"/><circle cx="463.5" cy="122.6" r="1.5"/><circle cx="464.2" cy="124.3" r="1.5"/><circle cx="465.0" cy="126.0" r="1.5"/><circle cx="465.9" cy="127.9" r="1.5"/><circle cx="466.7" cy="129.9" r="1.5"/><circle cx="467.6" cy="131.8" r="1.5"/><circle cx="468.5" cy="133.7" r="1.5"/><circle cx="469.3" cy="135.6" r="1.5"/><circle cx="470.2" cy="137.5" r="1.5"/><circle cx="470.9" cy="139.0" r="1.5"/><circle cx="471.5" cy="140.5" r="1.5"/><circle cx="472.1" cy="141.2" r="1.5"/><circle cx="472.6" cy="142.0" r="1.5"/><circle cx="473.3" cy="139.5" r="1.5"/><circle cx="474.0" cy="137.0" r="1.5"/><circle cx="475.0" cy="128.0" r="1.5"/><circle cx="475.9" cy="115.0" r="1.5"/><circle cx="476.7" cy="100.0" r="1.5"/><circle cx="477.5" cy="85.0" r="1.5"/><circle cx="478.3" cy="70.0" r="1.5"/><circle cx="479.2" cy="55.8" r="1.5"/><circle cx="479.8" cy="52.9" r="1.5"/><circle cx="480.3" cy="50.0" r="1.5"/><circle cx="481.1" cy="49.1" r="1.5"/><circle cx="481.8" cy="48.3" r="1.5"/><circle cx="482.6" cy="47.9" r="1.5"/><circle cx="483.3" cy="47.5" r="1.5"/><circle cx="484.1" cy="47.2" r="1.5"/><circle cx="484.8" cy="46.8" r="1.5"/><circle cx="485.6" cy="46.4" r="1.5"/><circle cx="486.4" cy="44.7" r="1.5"/><circle cx="487.3" cy="43.0" r="1.5"/><circle cx="488.1" cy="41.3" r="1.5"/><circle cx="489.0" cy="40.3" r="1.5"/><circle cx="489.8" cy="39.2" r="1.5"/><circle cx="490.7" cy="38.2" r="1.5"/><circle cx="491.6" cy="37.6" r="1.5"/><circle cx="492.5" cy="37.0" r="1.5"/><circle cx="493.2" cy="37.0" r="1.5"/><circle cx="493.8" cy="36.9" r="1.5"/><circle cx="494.5" cy="36.9" r="1.5"/><circle cx="495.2" cy="37.3" r="1.5"/><circle cx="495.8" cy="37.8" r="1.5"/><circle cx="496.5" cy="38.2" r="1.5"/><circle cx="497.4" cy="39.5" r="1.5"/><circle cx="498.3" cy="40.7" r="1.5"/><circle cx="499.1" cy="41.8" r="1.5"/><circle cx="500.0" cy="42.8" r="1.5"/><circle cx="500.8" cy="43.9" r="1.5"/><circle cx="501.4" cy="46.1" r="1.5"/><circle cx="502.0" cy="48.3" r="1.5"/><circle cx="502.8" cy="47.1" r="1.5"/><circle cx="503.5" cy="46.0" r="1.5"/><circle cx="504.4" cy="45.2" r="1.5"/><circle cx="505.2" cy="44.5" r="1.5"/><circle cx="506.1" cy="45.8" r="1.5"/><circle cx="507.0" cy="47.0" r="1.5"/><circle cx="507.7" cy="48.3" r="1.5"/><circle cx="508.3" cy="49.7" r="1.5"/><circle cx="509.0" cy="51.0" r="1.5"/><circle cx="509.6" cy="52.0" r="1.5"/><circle cx="510.3" cy="53.0" r="1.5"/><circle cx="510.9" cy="54.0" r="1.5"/><circle cx="511.7" cy="58.0" r="1.5"/><circle cx="512.5" cy="62.0" r="1.5"/><circle cx="513.2" cy="67.0" r="1.5"/><circle cx="514.0" cy="72.0" r="1.5"/><circle cx="514.8" cy="76.0" r="1.5"/><circle cx="515.5" cy="80.0" r="1.5"/><circle cx="516.2" cy="83.0" r="1.5"/><circle cx="517.0" cy="86.0" r="1.5"/><circle cx="517.8" cy="86.5" r="1.5"/><circle cx="518.5" cy="87.0" r="1.5"/><circle cx="519.2" cy="87.8" r="1.5"/><circle cx="519.8" cy="88.7" r="1.5"/><circle cx="520.5" cy="89.5" r="1.5"/><circle cx="521.2" cy="88.0" r="1.5"/><circle cx="521.8" cy="86.5" r="1.5"/><circle cx="522.5" cy="85.0" r="1.5"/><circle cx="523.2" cy="83.7" r="1.5"/><circle cx="523.8" cy="82.3" r="1.5"/><circle cx="524.5" cy="81.0" r="1.5"/><circle cx="525.1" cy="80.3" r="1.5"/><circle cx="525.8" cy="79.7" r="1.5"/><circle cx="526.4" cy="79.0" r="1.5"/><circle cx="527.1" cy="79.7" r="1.5"/><circle cx="527.8" cy="80.3" r="1.5"/><circle cx="528.5" cy="81.0" r="1.5"/><circle cx="529.3" cy="82.7" r="1.5"/><circle cx="530.2" cy="84.3" r="1.5"/><circle cx="531.0" cy="86.0" r="1.5"/><circle cx="531.8" cy="87.9" r="1.5"/><circle cx="532.6" cy="89.7" r="1.5"/><circle cx="533.4" cy="91.6" r="1.5"/><circle cx="534.0" cy="92.9" r="1.5"/><circle cx="534.6" cy="94.3" r="1.5"/><circle cx="535.3" cy="96.2" r="1.5"/><circle cx="536.0" cy="98.0" r="1.5"/><circle cx="536.6" cy="98.7" r="1.5"/><circle cx="537.2" cy="99.4" r="1.5"/><circle cx="537.9" cy="99.0" r="1.5"/><circle cx="538.5" cy="98.5" r="1.5"/><circle cx="539.1" cy="97.7" r="1.5"/><circle cx="539.7" cy="96.9" r="1.5"/><circle cx="540.4" cy="95.0" r="1.5"/><circle cx="541.0" cy="93.0" r="1.5"/><circle cx="542.0" cy="90.0" r="1.5"/><circle cx="542.9" cy="88.5" r="1.5"/><circle cx="543.7" cy="90.0" r="1.5"/><circle cx="544.7" cy="93.0" r="1.5"/><circle cx="545.4" cy="95.0" r="1.5"/><circle cx="546.0" cy="96.9" r="1.5"/><circle cx="546.6" cy="97.7" r="1.5"/><circle cx="547.2" cy="98.5" r="1.5"/><circle cx="547.9" cy="99.0" r="1.5"/><circle cx="548.5" cy="99.4" r="1.5"/><circle cx="549.1" cy="98.7" r="1.5"/><circle cx="549.7" cy="98.0" r="1.5"/><circle cx="550.4" cy="96.2" r="1.5"/><circle cx="551.1" cy="94.3" r="1.5"/><circle cx="551.7" cy="92.9" r="1.5"/><circle cx="552.3" cy="91.6" r="1.5"/><circle cx="553.1" cy="89.7" r="1.5"/><circle cx="553.9" cy="87.9" r="1.5"/><circle cx="554.7" cy="86.0" r="1.5"/><circle cx="555.5" cy="84.3" r="1.5"/><circle cx="556.4" cy="82.7" r="1.5"/><circle cx="557.2" cy="81.0" r="1.5"/><circle cx="557.9" cy="80.3" r="1.5"/><circle cx="558.6" cy="79.7" r="1.5"/><circle cx="559.3" cy="79.0" r="1.5"/><circle cx="559.9" cy="79.7" r="1.5"/><circle cx="560.6" cy="80.3" r="1.5"/><circle cx="561.2" cy="81.0" r="1.5"/><circle cx="561.9" cy="82.3" r="1.5"/><circle cx="562.5" cy="83.7" r="1.5"/><circle cx="563.2" cy="85.0" r="1.5"/><circle cx="563.9" cy="86.5" r="1.5"/><circle cx="564.5" cy="88.0" r="1.5"/><circle cx="565.2" cy="89.5" r="1.5"/><circle cx="565.9" cy="88.7" r="1.5"/><circle cx="566.5" cy="87.8" r="1.5"/><circle cx="567.2" cy="87.0" r="1.5"/><circle cx="568.0" cy="86.5" r="1.5"/><circle cx="568.7" cy="86.0" r="1.5"/><circle cx="569.5" cy="83.0" r="1.5"/><circle cx="570.2" cy="80.0" r="1.5"/><circle cx="571.0" cy="76.0" r="1.5"/><circle cx="571.7" cy="72.0" r="1.5"/><circle cx="572.5" cy="67.0" r="1.5"/><circle cx="573.2" cy="62.0" r="1.5"/><circle cx="574.0" cy="58.0" r="1.5"/><circle cx="574.8" cy="54.0" r="1.5"/><circle cx="575.4" cy="53.0" r="1.5"/><circle cx="576.1" cy="52.0" r="1.5"/><circle cx="576.7" cy="51.0" r="1.5"/><circle cx="577.4" cy="49.7" r="1.5"/><circle cx="578.0" cy="48.3" r="1.5"/><circle cx="578.7" cy="47.0" r="1.5"/><circle cx="579.6" cy="45.8" r="1.5"/><circle cx="580.5" cy="44.5" r="1.5"/><circle cx="581.4" cy="45.2" r="1.5"/><circle cx="582.2" cy="46.0" r="1.5"/><circle cx="583.0" cy="47.1" r="1.5"/><circle cx="583.7" cy="48.3" r="1.5"/><circle cx="584.3" cy="46.1" r="1.5"/><circle cx="584.9" cy="43.9" r="1.5"/><circle cx="585.7" cy="42.8" r="1.5"/><circle cx="586.6" cy="41.8" r="1.5"/><circle cx="587.4" cy="40.7" r="1.5"/><circle cx="588.3" cy="39.5" r="1.5"/><circle cx="589.2" cy="38.2" r="1.5"/><circle cx="589.9" cy="37.8" r="1.5"/><circle cx="590.5" cy="37.3" r="1.5"/><circle cx="591.2" cy="36.9" r="1.5"/><circle cx="591.9" cy="36.9" r="1.5"/><circle cx="592.5" cy="37.0" r="1.5"/><circle cx="593.2" cy="37.0" r="1.5"/><circle cx="594.1" cy="37.6" r="1.5"/><circle cx="595.0" cy="38.2" r="1.5"/><circle cx="595.9" cy="39.2" r="1.5"/><circle cx="596.7" cy="40.3" r="1.5"/><circle cx="597.6" cy="41.3" r="1.5"/><circle cx="598.4" cy="43.0" r="1.5"/><circle cx="599.3" cy="44.7" r="1.5"/><circle cx="600.1" cy="46.4" r="1.5"/><circle cx="600.9" cy="46.8" r="1.5"/><circle cx="601.6" cy="47.2" r="1.5"/><circle cx="602.4" cy="47.5" r="1.5"/><circle cx="603.1" cy="47.9" r="1.5"/><circle cx="603.9" cy="48.3" r="1.5"/><circle cx="604.7" cy="49.1" r="1.5"/><circle cx="605.4" cy="50.0" r="1.5"/><circle cx="606.0" cy="52.9" r="1.5"/><circle cx="606.5" cy="55.8" r="1.5"/><circle cx="607.4" cy="70.0" r="1.5"/><circle cx="608.2" cy="85.0" r="1.5"/><circle cx="609.0" cy="100.0" r="1.5"/><circle cx="609.8" cy="115.0" r="1.5"/><circle cx="610.7" cy="128.0" r="1.5"/><circle cx="611.7" cy="137.0" r="1.5"/><circle cx="612.4" cy="139.5" r="1.5"/><circle cx="613.1" cy="142.0" r="1.5"/><circle cx="613.7" cy="141.2" r="1.5"/><circle cx="614.2" cy="140.5" r="1.5"/><circle cx="614.9" cy="139.0" r="1.5"/><circle cx="615.5" cy="137.5" r="1.5"/><circle cx="616.4" cy="135.6" r="1.5"/><circle cx="617.2" cy="133.7" r="1.5"/><circle cx="618.1" cy="131.8" r="1.5"/><circle cx="619.0" cy="129.9" r="1.5"/><circle cx="619.8" cy="127.9" r="1.5"/><circle cx="620.7" cy="126.0" r="1.5"/><circle cx="621.5" cy="124.3" r="1.5"/><circle cx="622.2" cy="122.6" r="1.5"/><circle cx="623.2" cy="120.3" r="1.5"/><circle cx="624.2" cy="122.6" r="1.5"/><circle cx="625.0" cy="124.3" r="1.5"/><circle cx="625.7" cy="126.0" r="1.5"/><circle cx="626.6" cy="127.9" r="1.5"/><circle cx="627.4" cy="129.9" r="1.5"/><circle cx="628.3" cy="131.8" r="1.5"/><circle cx="629.2" cy="133.7" r="1.5"/><circle cx="630.0" cy="135.6" r="1.5"/><circle cx="630.9" cy="137.5" r="1.5"/><circle cx="631.6" cy="139.0" r="1.5"/><circle cx="632.2" cy="140.5" r="1.5"/><circle cx="632.8" cy="141.5" r="1.5"/><circle cx="633.4" cy="142.5" r="1.5"/><circle cx="634.2" cy="140.1" r="1.5"/><circle cx="634.9" cy="137.6" r="1.5"/><circle cx="635.7" cy="132.8" r="1.5"/><circle cx="636.4" cy="128.0" r="1.5"/><circle cx="637.2" cy="115.0" r="1.5"/><circle cx="638.0" cy="100.0" r="1.5"/><circle cx="638.8" cy="85.0" r="1.5"/><circle cx="639.7" cy="70.0" r="1.5"/><circle cx="640.6" cy="59.0" r="1.5"/><circle cx="641.3" cy="49.5" r="1.5"/><circle cx="641.9" cy="48.4" r="1.5"/><circle cx="642.6" cy="47.4" r="1.5"/><circle cx="643.2" cy="46.3" r="1.5"/><circle cx="644.2" cy="47.0" r="1.5"/><circle cx="645.0" cy="47.3" r="1.5"/><circle cx="645.7" cy="47.6" r="1.5"/><circle cx="646.5" cy="46.0" r="1.5"/><circle cx="647.2" cy="44.5" r="1.5"/><circle cx="648.1" cy="44.0" r="1.5"/><circle cx="648.9" cy="43.5" r="1.5"/><circle cx="649.7" cy="40.4" r="1.5"/><circle cx="650.5" cy="37.2" r="1.5"/><circle cx="651.2" cy="38.3" r="1.5"/><circle cx="652.0" cy="39.3" r="1.5"/><circle cx="652.7" cy="40.4" r="1.5"/><circle cx="653.5" cy="39.3" r="1.5"/><circle cx="654.4" cy="38.3" r="1.5"/><circle cx="655.2" cy="37.2" r="1.5"/><circle cx="656.1" cy="37.6" r="1.5"/><circle cx="656.9" cy="38.1" r="1.5"/><circle cx="657.8" cy="38.5" r="1.5"/><circle cx="658.6" cy="39.6" r="1.5"/><circle cx="659.4" cy="40.8" r="1.5"/><circle cx="660.1" cy="41.9" r="1.5"/><circle cx="660.9" cy="43.0" r="1.5"/><circle cx="661.5" cy="45.2" r="1.5"/><circle cx="662.2" cy="47.3" r="1.5"/><circle cx="662.8" cy="49.5" r="1.5"/><circle cx="663.4" cy="48.0" r="1.5"/><circle cx="664.1" cy="46.5" r="1.5"/><circle cx="664.7" cy="45.0" r="1.5"/><circle cx="665.4" cy="46.3" r="1.5"/><circle cx="666.0" cy="47.7" r="1.5"/><circle cx="666.7" cy="49.0" r="1.5"/><circle cx="667.5" cy="50.8" r="1.5"/><circle cx="668.2" cy="52.5" r="1.5"/><circle cx="669.0" cy="54.0" r="1.5"/><circle cx="669.7" cy="55.5" r="1.5"/><circle cx="670.5" cy="54.5" r="1.5"/><circle cx="671.2" cy="53.5" r="1.5"/><circle cx="671.8" cy="52.8" r="1.5"/><circle cx="672.3" cy="52.0" r="1.5"/><circle cx="673.2" cy="54.0" r="1.5"/><circle cx="674.0" cy="57.0" r="1.5"/><circle cx="674.7" cy="60.0" r="1.5"/><circle cx="675.5" cy="64.0" r="1.5"/><circle cx="676.2" cy="68.0" r="1.5"/><circle cx="677.0" cy="71.0" r="1.5"/><circle cx="677.7" cy="74.0" r="1.5"/><circle cx="678.3" cy="75.0" r="1.5"/><circle cx="678.9" cy="76.0" r="1.5"/></g>
<path d="M406.8 97.0 L407.1 96.7 L407.5 96.3 L408.0 95.8 L408.5 95.0 L408.9 93.9 L409.4 92.6 L409.8 91.2 L410.2 89.8 L410.5 88.4 L410.8 87.0 L411.0 85.5 L411.2 84.0 L411.4 82.3 L411.7 80.5 L411.9 78.7 L412.1 77.2 L412.3 76.0 L412.5 75.0 L412.8 74.1 L413.0 73.3 L413.2 72.6 L413.5 71.9 L413.7 71.3 L414.0 70.9 L414.3 70.5 L414.6 70.3 L414.9 70.1 L415.3 70.2 L415.8 70.6 L416.3 71.2 L416.9 71.9 L417.5 72.5 L418.1 73.1 L418.6 73.7 L419.2 74.3 L419.7 74.7 L420.2 74.9 L420.6 74.9 L421.0 74.9 L421.5 74.8 L422.0 74.7 L422.5 74.5 L423.0 74.3 L423.5 74.0 L424.1 73.6 L424.7 73.1 L425.4 72.5 L426.0 72.0 L426.7 71.5 L427.3 71.0 L428.0 70.6 L428.6 70.2 L429.1 70.0 L429.6 69.8 L430.0 69.8 L430.5 69.7 L431.0 69.7 L431.5 69.7 L431.9 69.7 L432.4 69.8 L432.8 69.9 L433.2 70.0 L433.6 70.2 L434.0 70.4 L434.4 70.6 L434.7 70.8 L435.1 71.1 L435.5 71.5 L435.9 72.1 L436.4 72.9 L436.8 73.7 L437.2 74.5 L437.6 75.3 L438.0 76.2 L438.3 77.1 L438.7 77.8 L439.0 78.4 L439.4 78.9 L439.7 79.4 L440.0 79.8 L440.3 80.1 L440.5 80.4 L440.8 80.6 L441.2 80.8 L441.8 80.8 L442.5 80.8 L443.2 80.7 L443.8 80.8 L444.2 81.1 L444.5 81.5 L444.8 82.0 L445.0 82.5 L445.2 83.0 L445.4 83.6 L445.5 84.3 L445.7 85.2 L445.9 86.4 L446.1 87.7 L446.2 89.3 L446.4 91.0 L446.6 92.5 L446.7 94.0 L446.8 96.2 L447.0 100.0 L447.2 106.0 L447.4 113.7 L447.6 122.0 L447.8 130.0 L448.0 137.9 L448.3 146.1 L448.5 153.7 L448.7 160.0 L448.9 164.4 L449.1 167.4 L449.3 169.9 L449.5 172.7 L449.7 176.0 L449.9 179.4 L450.2 182.6 L450.4 185.3 L450.6 187.3 L450.8 188.8 L451.0 190.0 L451.3 191.0 L451.6 191.9 L452.0 192.7 L452.3 193.2 L452.7 193.5 L453.0 193.5 L453.3 193.2 L453.6 192.7 L454.0 192.0 L454.5 191.2 L455.2 190.2 L455.8 189.0 L456.5 187.8 L457.1 186.4 L457.8 184.9 L458.4 183.4 L459.0 182.2 L459.5 181.4 L460.0 180.8 L460.4 180.3 L460.8 180.0 L461.2 179.7 L461.5 179.6 L461.8 179.6 L462.2 179.6 L462.6 179.7 L463.0 179.8 L463.4 180.0 L463.8 180.3 L464.1 180.7 L464.5 181.2 L464.8 181.8 L465.3 182.8 L466.0 184.3 L466.9 186.2 L467.8 188.2 L468.5 189.7 L469.0 190.7 L469.4 191.5 L469.7 192.0 L470.0 192.5 L470.4 192.9 L470.7 193.3 L471.1 193.5 L471.4 193.5 L471.7 193.4 L472.0 193.1 L472.3 192.6 L472.6 192.0 L472.8 191.3 L473.0 190.5 L473.3 189.4 L473.5 187.8 L473.8 185.6 L474.1 182.9 L474.5 179.9 L474.8 176.5 L475.1 173.1 L475.4 169.4 L475.6 165.2 L475.9 160.0 L476.1 153.3 L476.4 145.5 L476.6 137.4 L476.8 130.0 L476.9 123.3 L477.1 116.8 L477.2 110.9 L477.3 106.0 L477.5 102.2 L477.6 99.4 L477.8 97.2 L478.0 95.3 L478.2 93.8 L478.5 92.8 L478.7 92.1 L479.0 91.5 L479.2 91.0 L479.3 90.8 L479.5 90.6 L479.9 90.5 L480.6 90.4 L481.4 90.3 L482.3 90.2 L483.1 90.0 L483.7 89.6 L484.2 89.0 L484.6 88.3 L485.0 87.7 L485.4 87.1 L485.7 86.4 L486.0 85.7 L486.3 85.0 L486.6 84.2 L486.9 83.4 L487.2 82.7 L487.5 82.0 L487.8 81.5 L488.1 81.0 L488.4 80.6 L488.7 80.3 L489.0 80.0 L489.2 79.8 L489.5 79.7 L490.0 79.5 L490.8 79.3 L491.9 79.1 L492.9 78.9 L493.8 78.9 L494.4 79.0 L494.8 79.2 L495.1 79.5 L495.5 79.8 L495.9 80.1 L496.2 80.4 L496.6 80.7 L497.0 81.1 L497.6 81.5 L498.2 82.0 L498.9 82.4 L499.5 82.7 L500.1 82.8 L500.8 82.8 L501.4 82.8 L502.0 82.9 L502.5 83.1 L502.9 83.3 L503.2 83.5 L503.6 83.8 L504.0 84.1 L504.4 84.5 L504.8 84.8 L505.2 84.9 L505.5 84.8 L505.9 84.5 L506.2 84.1 L506.5 83.7 L506.8 83.3 L507.1 82.8 L507.4 82.4 L507.7 82.0 L508.0 81.6 L508.2 81.3 L508.5 81.0 L508.7 80.8 L508.9 80.6 L509.2 80.5 L509.4 80.4 L509.6 80.4 L509.8 80.4 L510.1 80.6 L510.3 80.7 L510.5 80.9 L510.7 81.1 L510.9 81.3 L511.0 81.6 L511.2 82.0 L511.4 82.6 L511.5 83.2 L511.7 84.0 L511.8 85.0 L511.9 86.1 L512.0 87.4 L512.2 88.7 L512.4 90.3 L512.7 92.0 L513.0 93.9 L513.4 95.9 L513.8 98.1 L514.2 100.6 L514.7 103.4 L515.2 106.1 L515.7 108.3 L516.1 109.8 L516.5 110.9 L516.9 111.8 L517.3 112.5 L517.7 113.2 L518.0 113.8 L518.4 114.2 L518.8 114.3 L519.2 114.2 L519.6 113.8 L520.0 113.2 L520.5 112.5 L521.1 111.6 L521.9 110.5 L522.6 109.3 L523.3 108.3 L523.9 107.5 L524.4 106.7 L525.0 106.0 L525.5 105.5 L526.1 105.1 L526.6 104.7 L527.2 104.5 L527.7 104.5 L528.2 104.7 L528.6 105.0 L529.0 105.4 L529.5 106.0 L529.9 106.7 L530.4 107.4 L530.9 108.3 L531.5 109.5 L532.4 111.1 L533.4 113.1 L534.5 115.0 L535.3 116.5 L535.8 117.4 L536.2 117.9 L536.5 118.2 L536.8 118.5 L537.1 118.8 L537.3 119.0 L537.6 119.1 L537.8 119.0 L538.1 118.8 L538.3 118.5 L538.6 118.1 L538.9 117.5 L539.2 116.7 L539.5 115.6 L539.7 114.5 L540.0 113.3 L540.2 112.1 L540.4 110.8 L540.6 109.5 L540.8 108.0 L541.0 106.4 L541.2 104.7 L541.4 102.8 L541.6 100.7 L541.8 98.1 L542.0 95.2 L542.1 92.3 L542.3 90.0 L542.4 88.2 L542.6 86.7 L542.7 85.7 L542.9 85.3 L543.0 85.7 L543.1 86.7 L543.3 88.2 L543.4 90.0 L543.6 92.3 L543.7 95.2 L543.9 98.1 L544.1 100.7 L544.3 102.8 L544.5 104.7 L544.7 106.4 L544.9 108.0 L545.1 109.5 L545.3 110.8 L545.5 112.1 L545.7 113.3 L546.0 114.5 L546.2 115.6 L546.5 116.7 L546.8 117.5 L547.1 118.1 L547.4 118.5 L547.6 118.8 L547.9 119.0 L548.1 119.1 L548.4 119.0 L548.6 118.8 L548.9 118.5 L549.2 118.2 L549.5 117.9 L549.9 117.4 L550.4 116.5 L551.2 115.0 L552.3 113.1 L553.3 111.1 L554.2 109.5 L554.8 108.3 L555.3 107.4 L555.8 106.7 L556.2 106.0 L556.7 105.4 L557.1 105.0 L557.5 104.7 L558.0 104.5 L558.5 104.5 L559.1 104.7 L559.6 105.1 L560.2 105.5 L560.7 106.0 L561.3 106.7 L561.8 107.5 L562.4 108.3 L563.1 109.3 L563.8 110.5 L564.6 111.6 L565.2 112.5 L565.7 113.2 L566.1 113.8 L566.5 114.2 L566.9 114.3 L567.3 114.2 L567.7 113.8 L568.0 113.2 L568.4 112.5 L568.8 111.8 L569.2 110.9 L569.6 109.8 L570.0 108.3 L570.5 106.1 L571.0 103.4 L571.5 100.6 L571.9 98.1 L572.3 95.9 L572.7 93.9 L573.0 92.0 L573.3 90.3 L573.5 88.7 L573.7 87.4 L573.8 86.1 L573.9 85.0 L574.0 84.0 L574.2 83.2 L574.3 82.6 L574.5 82.0 L574.7 81.6 L574.8 81.3 L575.0 81.1 L575.2 80.9 L575.4 80.7 L575.6 80.6 L575.9 80.4 L576.1 80.4 L576.3 80.4 L576.5 80.5 L576.8 80.6 L577.0 80.8 L577.2 81.0 L577.5 81.3 L577.7 81.6 L578.0 82.0 L578.3 82.4 L578.6 82.8 L578.9 83.3 L579.2 83.7 L579.5 84.1 L579.8 84.5 L580.2 84.8 L580.5 84.9 L580.9 84.8 L581.3 84.5 L581.7 84.1 L582.1 83.8 L582.5 83.5 L582.8 83.3 L583.2 83.1 L583.7 82.9 L584.3 82.8 L584.9 82.8 L585.6 82.8 L586.2 82.7 L586.8 82.4 L587.5 82.0 L588.1 81.5 L588.7 81.1 L589.1 80.7 L589.5 80.4 L589.8 80.1 L590.2 79.8 L590.6 79.5 L590.9 79.2 L591.3 79.0 L591.9 78.9 L592.8 78.9 L593.8 79.1 L594.9 79.3 L595.7 79.5 L596.2 79.7 L596.5 79.8 L596.7 80.0 L597.0 80.3 L597.3 80.6 L597.6 81.0 L597.9 81.5 L598.2 82.0 L598.5 82.7 L598.8 83.4 L599.1 84.2 L599.4 85.0 L599.7 85.7 L600.0 86.4 L600.3 87.1 L600.7 87.7 L601.1 88.3 L601.5 89.0 L602.0 89.6 L602.6 90.0 L603.4 90.2 L604.3 90.3 L605.1 90.4 L605.8 90.5 L606.2 90.6 L606.4 90.8 L606.5 91.0 L606.7 91.5 L607.0 92.1 L607.2 92.8 L607.5 93.8 L607.7 95.3 L607.9 97.2 L608.1 99.4 L608.2 102.2 L608.4 106.0 L608.5 110.9 L608.6 116.8 L608.8 123.3 L608.9 130.0 L609.1 137.4 L609.3 145.5 L609.6 153.3 L609.8 160.0 L610.1 165.2 L610.3 169.4 L610.6 173.1 L610.9 176.5 L611.2 179.9 L611.6 182.9 L611.9 185.6 L612.2 187.8 L612.4 189.4 L612.7 190.5 L612.9 191.3 L613.1 192.0 L613.4 192.6 L613.7 193.1 L614.0 193.4 L614.3 193.5 L614.6 193.5 L615.0 193.3 L615.3 192.9 L615.7 192.5 L616.0 192.0 L616.3 191.5 L616.7 190.7 L617.2 189.7 L617.9 188.2 L618.8 186.2 L619.7 184.3 L620.4 182.8 L620.9 181.8 L621.2 181.2 L621.6 180.7 L621.9 180.3 L622.3 180.0 L622.7 179.8 L623.1 179.7 L623.5 179.6 L623.9 179.6 L624.2 179.6 L624.5 179.7 L624.9 180.0 L625.3 180.3 L625.7 180.8 L626.2 181.4 L626.7 182.2 L627.3 183.4 L627.9 184.9 L628.6 186.4 L629.2 187.8 L629.9 189.0 L630.5 190.2 L631.2 191.2 L631.7 192.0 L632.1 192.7 L632.4 193.2 L632.7 193.5 L633.0 193.5 L633.4 193.2 L633.7 192.7 L634.1 191.9 L634.4 191.0 L634.7 190.0 L634.9 188.8 L635.1 187.3 L635.3 185.3 L635.5 182.6 L635.8 179.4 L636.0 176.0 L636.2 172.7 L636.4 169.9 L636.6 167.4 L636.8 164.4 L637.0 160.0 L637.2 153.7 L637.4 146.1 L637.7 137.9 L637.9 130.0 L638.1 122.0 L638.3 113.7 L638.5 106.0 L638.7 100.0 L638.9 96.2 L639.0 94.0 L639.1 92.5 L639.3 91.0 L639.5 89.3 L639.6 87.7 L639.8 86.4 L640.0 85.2 L640.2 84.3 L640.3 83.6 L640.5 83.0 L640.7 82.5 L640.9 82.0 L641.2 81.5 L641.5 81.1 L641.9 80.8 L642.5 80.7 L643.2 80.8 L643.9 80.8 L644.5 80.8 L644.9 80.6 L645.2 80.4 L645.4 80.1 L645.7 79.8 L646.0 79.4 L646.3 78.9 L646.7 78.4 L647.0 77.8 L647.4 77.1 L647.7 76.2 L648.1 75.3 L648.5 74.5 L648.9 73.7 L649.4 72.9 L649.8 72.1 L650.2 71.5 L650.6 71.1 L651.0 70.8 L651.3 70.6 L651.7 70.4 L652.1 70.2 L652.5 70.0 L652.9 69.9 L653.3 69.8 L653.8 69.7 L654.2 69.7 L654.7 69.7 L655.2 69.7 L655.7 69.8 L656.1 69.8 L656.6 70.0 L657.1 70.2 L657.7 70.6 L658.4 71.0 L659.0 71.5 L659.7 72.0 L660.3 72.5 L661.0 73.1 L661.6 73.6 L662.2 74.0 L662.7 74.3 L663.2 74.5 L663.7 74.7 L664.2 74.8 L664.7 74.9 L665.1 74.9 L665.5 74.9 L666.0 74.7 L666.5 74.3 L667.1 73.7 L667.6 73.1 L668.2 72.5 L668.8 71.9 L669.4 71.2 L669.9 70.6 L670.4 70.2 L670.8 70.1 L671.1 70.3 L671.4 70.5 L671.7 70.9 L672.0 71.3 L672.2 71.9 L672.5 72.6 L672.7 73.3 L672.9 74.1 L673.2 75.0 L673.4 76.0 L673.6 77.2 L673.8 78.7 L674.0 80.5 L674.3 82.3 L674.5 84.0 L674.7 85.5 L675.0 87.0 L675.2 88.4 L675.5 89.8 L675.9 91.2 L676.3 92.6 L676.8 93.9 L677.2 95.0 L677.7 95.8 L678.2 96.3 L678.6 96.7 L678.9 97.0" fill="none" stroke="#858585" stroke-width="1.65" stroke-linejoin="round" stroke-linecap="round"/>
<path d="M406.8 78.5 L407.7 76.9 L408.6 74.7 L409.3 70.6 L410.2 65.8 L410.6 60.3 L411.1 55.8 L411.7 50.8 L412.4 46.3 L413.4 41.3 L414.0 36.6 L414.9 41.0 L415.8 46.0 L416.4 52.7 L417.2 48.9 L417.8 44.5 L418.5 40.8 L419.5 36.6 L420.4 33.4 L421.2 30.3 L421.8 28.1 L422.3 25.8 L423.3 23.3 L423.9 23.9 L424.5 23.3 L425.4 20.8 L426.4 17.6 L427.3 19.5 L428.3 22.7 L429.2 25.2 L430.0 25.5 L430.9 26.9 L431.6 26.0 L432.4 26.6 L433.0 26.6 L433.6 28.1 L434.4 26.1 L435.2 25.8 L436.0 26.1 L436.8 28.1 L437.4 28.2 L438.1 29.8 L438.7 29.9 L439.3 29.8 L440.0 28.2 L440.6 28.1 L441.5 28.2 L442.3 29.6 L442.9 31.8 L443.5 34.0 L444.4 30.3 L445.1 34.7 L446.1 43.2 L446.6 53.3 L447.3 64.7 L448.2 77.0 L448.9 89.0 L449.5 101.2 L450.1 112.0 L450.8 120.3 L451.4 120.5 L452.0 121.5 L452.4 125.3 L453.3 129.7 L454.0 131.4 L454.6 133.2 L455.2 131.4 L455.8 129.7 L456.5 124.0 L457.1 117.7 L457.5 112.7 L458.4 108.2 L459.0 106.5 L459.6 106.1 L460.2 104.9 L460.9 105.0 L461.7 101.3 L462.5 97.2 L463.3 101.3 L464.0 105.0 L464.6 105.7 L465.3 107.5 L465.9 108.2 L466.8 110.8 L467.6 115.2 L467.9 120.3 L468.5 125.3 L469.4 130.4 L470.1 133.2 L470.8 129.2 L471.4 125.3 L472.3 122.0 L473.2 123.4 L473.9 116.5 L474.4 106.3 L475.4 95.3 L476.1 82.7 L476.7 70.8 L477.3 59.0 L478.0 47.6 L478.6 38.2 L479.5 33.1 L480.4 29.3 L480.9 28.9 L481.5 27.2 L482.3 27.4 L483.1 26.1 L483.7 27.7 L484.4 27.8 L485.0 29.4 L485.8 27.4 L486.7 26.9 L487.5 24.9 L488.1 26.5 L488.8 26.6 L489.4 27.8 L490.0 25.9 L490.7 24.0 L491.3 24.0 L492.0 25.3 L492.6 24.9 L493.4 25.1 L494.3 23.6 L495.1 23.4 L495.8 21.1 L496.4 18.9 L497.2 17.2 L498.0 16.8 L498.9 18.3 L499.8 20.8 L500.2 26.5 L500.8 25.3 L501.4 23.4 L502.0 25.9 L502.7 28.4 L503.3 32.2 L504.3 36.0 L505.2 39.2 L505.8 41.3 L506.5 43.8 L507.1 46.4 L508.1 51.5 L508.6 47.8 L509.2 44.0 L509.8 39.8 L510.3 35.5 L511.2 40.0 L511.9 46.4 L512.8 52.0 L513.7 57.8 L514.3 64.0 L515.0 69.4 L515.7 74.6 L516.3 79.6 L517.0 77.9 L517.6 77.5 L518.2 76.4 L518.8 76.5 L519.5 80.9 L520.1 86.0 L520.8 83.8 L521.4 81.5 L522.0 76.5 L522.6 75.3 L523.3 72.9 L523.9 74.3 L524.6 74.2 L525.2 75.6 L525.8 75.2 L526.5 76.5 L527.1 76.5 L527.9 74.0 L528.6 71.4 L529.4 74.0 L530.2 76.5 L530.9 78.2 L531.5 79.0 L532.1 80.9 L532.7 82.8 L533.4 84.5 L534.0 85.3 L534.6 83.4 L535.3 81.5 L535.9 79.0 L536.5 76.5 L537.1 78.4 L537.8 80.3 L538.5 84.0 L539.1 94.3 L539.7 88.0 L540.3 86.2 L541.0 85.8 L541.6 83.7 L542.2 83.6 L542.9 81.8 L543.5 83.6 L544.1 83.7 L544.8 85.8 L545.4 86.2 L546.0 88.0 L546.6 94.3 L547.2 84.0 L547.9 80.3 L548.6 78.4 L549.2 76.5 L549.8 79.0 L550.4 81.5 L551.1 83.4 L551.7 85.3 L552.4 84.5 L553.0 82.8 L553.6 80.9 L554.2 79.0 L554.9 78.2 L555.5 76.5 L556.3 74.0 L557.1 71.4 L557.9 74.0 L558.6 76.5 L559.2 76.5 L559.9 75.2 L560.5 75.6 L561.1 74.2 L561.8 74.3 L562.4 72.9 L563.1 75.3 L563.7 76.5 L564.3 81.5 L565.0 83.8 L565.6 86.0 L566.2 80.9 L566.9 76.5 L567.5 76.4 L568.1 77.5 L568.8 77.9 L569.4 79.6 L570.0 74.6 L570.7 69.4 L571.4 64.0 L572.0 57.8 L572.9 52.0 L573.8 46.4 L574.5 40.0 L575.4 35.5 L576.0 39.8 L576.5 44.0 L577.0 47.8 L577.6 51.5 L578.6 46.4 L579.2 43.8 L579.9 41.3 L580.5 39.2 L581.4 36.0 L582.4 32.2 L583.0 28.4 L583.7 25.9 L584.3 23.4 L584.9 25.3 L585.5 26.5 L585.9 20.8 L586.8 18.3 L587.7 16.8 L588.5 17.2 L589.3 18.9 L590.0 21.1 L590.6 23.4 L591.4 23.6 L592.3 25.1 L593.1 24.9 L593.7 25.3 L594.4 24.0 L595.0 24.0 L595.7 25.9 L596.3 27.8 L596.9 26.6 L597.6 26.5 L598.2 24.9 L599.0 26.9 L599.9 27.4 L600.7 29.4 L601.3 27.8 L602.0 27.7 L602.6 26.1 L603.4 27.4 L604.2 27.2 L604.8 28.9 L605.3 29.3 L606.2 33.1 L607.1 38.2 L607.7 47.6 L608.4 59.0 L609.0 70.8 L609.6 82.7 L610.3 95.3 L611.3 106.3 L611.8 116.5 L612.5 123.4 L613.4 122.0 L614.3 125.3 L615.0 129.2 L615.6 133.2 L616.3 130.4 L617.2 125.3 L617.8 120.3 L618.1 115.2 L618.9 110.8 L619.8 108.2 L620.4 107.5 L621.1 105.7 L621.7 105.0 L622.4 101.3 L623.2 97.2 L624.0 101.3 L624.8 105.0 L625.5 104.9 L626.1 106.1 L626.7 106.5 L627.3 108.2 L628.2 112.7 L628.6 117.7 L629.2 124.0 L629.9 129.7 L630.5 131.4 L631.1 133.2 L631.8 131.4 L632.4 129.7 L633.3 125.3 L633.7 121.5 L634.3 120.5 L634.9 120.3 L635.6 112.0 L636.2 101.2 L636.8 89.0 L637.5 77.0 L638.4 64.7 L639.1 53.3 L639.6 43.2 L640.6 34.7 L641.3 30.3 L642.2 34.0 L642.8 31.8 L643.4 29.6 L644.2 28.2 L645.1 28.1 L645.7 28.2 L646.4 29.8 L647.0 29.9 L647.6 29.8 L648.3 28.2 L648.9 28.1 L649.7 26.1 L650.5 25.8 L651.3 26.1 L652.1 28.1 L652.7 26.6 L653.3 26.6 L654.1 26.0 L654.8 26.9 L655.7 25.5 L656.5 25.2 L657.4 22.7 L658.4 19.5 L659.3 17.6 L660.3 20.8 L661.2 23.3 L661.8 23.9 L662.4 23.3 L663.4 25.8 L664.0 28.1 L664.5 30.3 L665.3 33.4 L666.2 36.6 L667.2 40.8 L667.9 44.5 L668.5 48.9 L669.3 52.7 L669.9 46.0 L670.8 41.0 L671.7 36.6 L672.3 41.3 L673.3 46.3 L674.0 50.8 L674.6 55.8 L675.1 60.3 L675.5 65.8 L676.4 70.6 L677.1 74.7 L678.0 76.9 L678.9 78.5" fill="none" stroke="#000" stroke-width="0.8" stroke-linejoin="round"/>
<g fill="#000"><circle cx="406.8" cy="78.5" r="1.5"/><circle cx="407.7" cy="76.9" r="1.5"/><circle cx="408.6" cy="74.7" r="1.5"/><circle cx="409.3" cy="70.6" r="1.5"/><circle cx="410.2" cy="65.8" r="1.5"/><circle cx="410.6" cy="60.3" r="1.5"/><circle cx="411.1" cy="55.8" r="1.5"/><circle cx="411.7" cy="50.8" r="1.5"/><circle cx="412.4" cy="46.3" r="1.5"/><circle cx="413.4" cy="41.3" r="1.5"/><circle cx="414.0" cy="36.6" r="1.5"/><circle cx="414.9" cy="41.0" r="1.5"/><circle cx="415.8" cy="46.0" r="1.5"/><circle cx="416.4" cy="52.7" r="1.5"/><circle cx="417.2" cy="48.9" r="1.5"/><circle cx="417.8" cy="44.5" r="1.5"/><circle cx="418.5" cy="40.8" r="1.5"/><circle cx="419.5" cy="36.6" r="1.5"/><circle cx="420.4" cy="33.4" r="1.5"/><circle cx="421.2" cy="30.3" r="1.5"/><circle cx="421.8" cy="28.1" r="1.5"/><circle cx="422.3" cy="25.8" r="1.5"/><circle cx="423.3" cy="23.3" r="1.5"/><circle cx="423.9" cy="23.9" r="1.5"/><circle cx="424.5" cy="23.3" r="1.5"/><circle cx="425.4" cy="20.8" r="1.5"/><circle cx="426.4" cy="17.6" r="1.5"/><circle cx="427.3" cy="19.5" r="1.5"/><circle cx="428.3" cy="22.7" r="1.5"/><circle cx="429.2" cy="25.2" r="1.5"/><circle cx="430.0" cy="25.5" r="1.5"/><circle cx="430.9" cy="26.9" r="1.5"/><circle cx="431.6" cy="26.0" r="1.5"/><circle cx="432.4" cy="26.6" r="1.5"/><circle cx="433.0" cy="26.6" r="1.5"/><circle cx="433.6" cy="28.1" r="1.5"/><circle cx="434.4" cy="26.1" r="1.5"/><circle cx="435.2" cy="25.8" r="1.5"/><circle cx="436.0" cy="26.1" r="1.5"/><circle cx="436.8" cy="28.1" r="1.5"/><circle cx="437.4" cy="28.2" r="1.5"/><circle cx="438.1" cy="29.8" r="1.5"/><circle cx="438.7" cy="29.9" r="1.5"/><circle cx="439.3" cy="29.8" r="1.5"/><circle cx="440.0" cy="28.2" r="1.5"/><circle cx="440.6" cy="28.1" r="1.5"/><circle cx="441.5" cy="28.2" r="1.5"/><circle cx="442.3" cy="29.6" r="1.5"/><circle cx="442.9" cy="31.8" r="1.5"/><circle cx="443.5" cy="34.0" r="1.5"/><circle cx="444.4" cy="30.3" r="1.5"/><circle cx="445.1" cy="34.7" r="1.5"/><circle cx="446.1" cy="43.2" r="1.5"/><circle cx="446.6" cy="53.3" r="1.5"/><circle cx="447.3" cy="64.7" r="1.5"/><circle cx="448.2" cy="77.0" r="1.5"/><circle cx="448.9" cy="89.0" r="1.5"/><circle cx="449.5" cy="101.2" r="1.5"/><circle cx="450.1" cy="112.0" r="1.5"/><circle cx="450.8" cy="120.3" r="1.5"/><circle cx="451.4" cy="120.5" r="1.5"/><circle cx="452.0" cy="121.5" r="1.5"/><circle cx="452.4" cy="125.3" r="1.5"/><circle cx="453.3" cy="129.7" r="1.5"/><circle cx="454.0" cy="131.4" r="1.5"/><circle cx="454.6" cy="133.2" r="1.5"/><circle cx="455.2" cy="131.4" r="1.5"/><circle cx="455.8" cy="129.7" r="1.5"/><circle cx="456.5" cy="124.0" r="1.5"/><circle cx="457.1" cy="117.7" r="1.5"/><circle cx="457.5" cy="112.7" r="1.5"/><circle cx="458.4" cy="108.2" r="1.5"/><circle cx="459.0" cy="106.5" r="1.5"/><circle cx="459.6" cy="106.1" r="1.5"/><circle cx="460.2" cy="104.9" r="1.5"/><circle cx="460.9" cy="105.0" r="1.5"/><circle cx="461.7" cy="101.3" r="1.5"/><circle cx="462.5" cy="97.2" r="1.5"/><circle cx="463.3" cy="101.3" r="1.5"/><circle cx="464.0" cy="105.0" r="1.5"/><circle cx="464.6" cy="105.7" r="1.5"/><circle cx="465.3" cy="107.5" r="1.5"/><circle cx="465.9" cy="108.2" r="1.5"/><circle cx="466.8" cy="110.8" r="1.5"/><circle cx="467.6" cy="115.2" r="1.5"/><circle cx="467.9" cy="120.3" r="1.5"/><circle cx="468.5" cy="125.3" r="1.5"/><circle cx="469.4" cy="130.4" r="1.5"/><circle cx="470.1" cy="133.2" r="1.5"/><circle cx="470.8" cy="129.2" r="1.5"/><circle cx="471.4" cy="125.3" r="1.5"/><circle cx="472.3" cy="122.0" r="1.5"/><circle cx="473.2" cy="123.4" r="1.5"/><circle cx="473.9" cy="116.5" r="1.5"/><circle cx="474.4" cy="106.3" r="1.5"/><circle cx="475.4" cy="95.3" r="1.5"/><circle cx="476.1" cy="82.7" r="1.5"/><circle cx="476.7" cy="70.8" r="1.5"/><circle cx="477.3" cy="59.0" r="1.5"/><circle cx="478.0" cy="47.6" r="1.5"/><circle cx="478.6" cy="38.2" r="1.5"/><circle cx="479.5" cy="33.1" r="1.5"/><circle cx="480.4" cy="29.3" r="1.5"/><circle cx="480.9" cy="28.9" r="1.5"/><circle cx="481.5" cy="27.2" r="1.5"/><circle cx="482.3" cy="27.4" r="1.5"/><circle cx="483.1" cy="26.1" r="1.5"/><circle cx="483.7" cy="27.7" r="1.5"/><circle cx="484.4" cy="27.8" r="1.5"/><circle cx="485.0" cy="29.4" r="1.5"/><circle cx="485.8" cy="27.4" r="1.5"/><circle cx="486.7" cy="26.9" r="1.5"/><circle cx="487.5" cy="24.9" r="1.5"/><circle cx="488.1" cy="26.5" r="1.5"/><circle cx="488.8" cy="26.6" r="1.5"/><circle cx="489.4" cy="27.8" r="1.5"/><circle cx="490.0" cy="25.9" r="1.5"/><circle cx="490.7" cy="24.0" r="1.5"/><circle cx="491.3" cy="24.0" r="1.5"/><circle cx="492.0" cy="25.3" r="1.5"/><circle cx="492.6" cy="24.9" r="1.5"/><circle cx="493.4" cy="25.1" r="1.5"/><circle cx="494.3" cy="23.6" r="1.5"/><circle cx="495.1" cy="23.4" r="1.5"/><circle cx="495.8" cy="21.1" r="1.5"/><circle cx="496.4" cy="18.9" r="1.5"/><circle cx="497.2" cy="17.2" r="1.5"/><circle cx="498.0" cy="16.8" r="1.5"/><circle cx="498.9" cy="18.3" r="1.5"/><circle cx="499.8" cy="20.8" r="1.5"/><circle cx="500.2" cy="26.5" r="1.5"/><circle cx="500.8" cy="25.3" r="1.5"/><circle cx="501.4" cy="23.4" r="1.5"/><circle cx="502.0" cy="25.9" r="1.5"/><circle cx="502.7" cy="28.4" r="1.5"/><circle cx="503.3" cy="32.2" r="1.5"/><circle cx="504.3" cy="36.0" r="1.5"/><circle cx="505.2" cy="39.2" r="1.5"/><circle cx="505.8" cy="41.3" r="1.5"/><circle cx="506.5" cy="43.8" r="1.5"/><circle cx="507.1" cy="46.4" r="1.5"/><circle cx="508.1" cy="51.5" r="1.5"/><circle cx="508.6" cy="47.8" r="1.5"/><circle cx="509.2" cy="44.0" r="1.5"/><circle cx="509.8" cy="39.8" r="1.5"/><circle cx="510.3" cy="35.5" r="1.5"/><circle cx="511.2" cy="40.0" r="1.5"/><circle cx="511.9" cy="46.4" r="1.5"/><circle cx="512.8" cy="52.0" r="1.5"/><circle cx="513.7" cy="57.8" r="1.5"/><circle cx="514.3" cy="64.0" r="1.5"/><circle cx="515.0" cy="69.4" r="1.5"/><circle cx="515.7" cy="74.6" r="1.5"/><circle cx="516.3" cy="79.6" r="1.5"/><circle cx="517.0" cy="77.9" r="1.5"/><circle cx="517.6" cy="77.5" r="1.5"/><circle cx="518.2" cy="76.4" r="1.5"/><circle cx="518.8" cy="76.5" r="1.5"/><circle cx="519.5" cy="80.9" r="1.5"/><circle cx="520.1" cy="86.0" r="1.5"/><circle cx="520.8" cy="83.8" r="1.5"/><circle cx="521.4" cy="81.5" r="1.5"/><circle cx="522.0" cy="76.5" r="1.5"/><circle cx="522.6" cy="75.3" r="1.5"/><circle cx="523.3" cy="72.9" r="1.5"/><circle cx="523.9" cy="74.3" r="1.5"/><circle cx="524.6" cy="74.2" r="1.5"/><circle cx="525.2" cy="75.6" r="1.5"/><circle cx="525.8" cy="75.2" r="1.5"/><circle cx="526.5" cy="76.5" r="1.5"/><circle cx="527.1" cy="76.5" r="1.5"/><circle cx="527.9" cy="74.0" r="1.5"/><circle cx="528.6" cy="71.4" r="1.5"/><circle cx="529.4" cy="74.0" r="1.5"/><circle cx="530.2" cy="76.5" r="1.5"/><circle cx="530.9" cy="78.2" r="1.5"/><circle cx="531.5" cy="79.0" r="1.5"/><circle cx="532.1" cy="80.9" r="1.5"/><circle cx="532.7" cy="82.8" r="1.5"/><circle cx="533.4" cy="84.5" r="1.5"/><circle cx="534.0" cy="85.3" r="1.5"/><circle cx="534.6" cy="83.4" r="1.5"/><circle cx="535.3" cy="81.5" r="1.5"/><circle cx="535.9" cy="79.0" r="1.5"/><circle cx="536.5" cy="76.5" r="1.5"/><circle cx="537.1" cy="78.4" r="1.5"/><circle cx="537.8" cy="80.3" r="1.5"/><circle cx="538.5" cy="84.0" r="1.5"/><circle cx="539.1" cy="94.3" r="1.5"/><circle cx="539.7" cy="88.0" r="1.5"/><circle cx="540.3" cy="86.2" r="1.5"/><circle cx="541.0" cy="85.8" r="1.5"/><circle cx="541.6" cy="83.7" r="1.5"/><circle cx="542.2" cy="83.6" r="1.5"/><circle cx="542.9" cy="81.8" r="1.5"/><circle cx="543.5" cy="83.6" r="1.5"/><circle cx="544.1" cy="83.7" r="1.5"/><circle cx="544.8" cy="85.8" r="1.5"/><circle cx="545.4" cy="86.2" r="1.5"/><circle cx="546.0" cy="88.0" r="1.5"/><circle cx="546.6" cy="94.3" r="1.5"/><circle cx="547.2" cy="84.0" r="1.5"/><circle cx="547.9" cy="80.3" r="1.5"/><circle cx="548.6" cy="78.4" r="1.5"/><circle cx="549.2" cy="76.5" r="1.5"/><circle cx="549.8" cy="79.0" r="1.5"/><circle cx="550.4" cy="81.5" r="1.5"/><circle cx="551.1" cy="83.4" r="1.5"/><circle cx="551.7" cy="85.3" r="1.5"/><circle cx="552.4" cy="84.5" r="1.5"/><circle cx="553.0" cy="82.8" r="1.5"/><circle cx="553.6" cy="80.9" r="1.5"/><circle cx="554.2" cy="79.0" r="1.5"/><circle cx="554.9" cy="78.2" r="1.5"/><circle cx="555.5" cy="76.5" r="1.5"/><circle cx="556.3" cy="74.0" r="1.5"/><circle cx="557.1" cy="71.4" r="1.5"/><circle cx="557.9" cy="74.0" r="1.5"/><circle cx="558.6" cy="76.5" r="1.5"/><circle cx="559.2" cy="76.5" r="1.5"/><circle cx="559.9" cy="75.2" r="1.5"/><circle cx="560.5" cy="75.6" r="1.5"/><circle cx="561.1" cy="74.2" r="1.5"/><circle cx="561.8" cy="74.3" r="1.5"/><circle cx="562.4" cy="72.9" r="1.5"/><circle cx="563.1" cy="75.3" r="1.5"/><circle cx="563.7" cy="76.5" r="1.5"/><circle cx="564.3" cy="81.5" r="1.5"/><circle cx="565.0" cy="83.8" r="1.5"/><circle cx="565.6" cy="86.0" r="1.5"/><circle cx="566.2" cy="80.9" r="1.5"/><circle cx="566.9" cy="76.5" r="1.5"/><circle cx="567.5" cy="76.4" r="1.5"/><circle cx="568.1" cy="77.5" r="1.5"/><circle cx="568.8" cy="77.9" r="1.5"/><circle cx="569.4" cy="79.6" r="1.5"/><circle cx="570.0" cy="74.6" r="1.5"/><circle cx="570.7" cy="69.4" r="1.5"/><circle cx="571.4" cy="64.0" r="1.5"/><circle cx="572.0" cy="57.8" r="1.5"/><circle cx="572.9" cy="52.0" r="1.5"/><circle cx="573.8" cy="46.4" r="1.5"/><circle cx="574.5" cy="40.0" r="1.5"/><circle cx="575.4" cy="35.5" r="1.5"/><circle cx="576.0" cy="39.8" r="1.5"/><circle cx="576.5" cy="44.0" r="1.5"/><circle cx="577.0" cy="47.8" r="1.5"/><circle cx="577.6" cy="51.5" r="1.5"/><circle cx="578.6" cy="46.4" r="1.5"/><circle cx="579.2" cy="43.8" r="1.5"/><circle cx="579.9" cy="41.3" r="1.5"/><circle cx="580.5" cy="39.2" r="1.5"/><circle cx="581.4" cy="36.0" r="1.5"/><circle cx="582.4" cy="32.2" r="1.5"/><circle cx="583.0" cy="28.4" r="1.5"/><circle cx="583.7" cy="25.9" r="1.5"/><circle cx="584.3" cy="23.4" r="1.5"/><circle cx="584.9" cy="25.3" r="1.5"/><circle cx="585.5" cy="26.5" r="1.5"/><circle cx="585.9" cy="20.8" r="1.5"/><circle cx="586.8" cy="18.3" r="1.5"/><circle cx="587.7" cy="16.8" r="1.5"/><circle cx="588.5" cy="17.2" r="1.5"/><circle cx="589.3" cy="18.9" r="1.5"/><circle cx="590.0" cy="21.1" r="1.5"/><circle cx="590.6" cy="23.4" r="1.5"/><circle cx="591.4" cy="23.6" r="1.5"/><circle cx="592.3" cy="25.1" r="1.5"/><circle cx="593.1" cy="24.9" r="1.5"/><circle cx="593.7" cy="25.3" r="1.5"/><circle cx="594.4" cy="24.0" r="1.5"/><circle cx="595.0" cy="24.0" r="1.5"/><circle cx="595.7" cy="25.9" r="1.5"/><circle cx="596.3" cy="27.8" r="1.5"/><circle cx="596.9" cy="26.6" r="1.5"/><circle cx="597.6" cy="26.5" r="1.5"/><circle cx="598.2" cy="24.9" r="1.5"/><circle cx="599.0" cy="26.9" r="1.5"/><circle cx="599.9" cy="27.4" r="1.5"/><circle cx="600.7" cy="29.4" r="1.5"/><circle cx="601.3" cy="27.8" r="1.5"/><circle cx="602.0" cy="27.7" r="1.5"/><circle cx="602.6" cy="26.1" r="1.5"/><circle cx="603.4" cy="27.4" r="1.5"/><circle cx="604.2" cy="27.2" r="1.5"/><circle cx="604.8" cy="28.9" r="1.5"/><circle cx="605.3" cy="29.3" r="1.5"/><circle cx="606.2" cy="33.1" r="1.5"/><circle cx="607.1" cy="38.2" r="1.5"/><circle cx="607.7" cy="47.6" r="1.5"/><circle cx="608.4" cy="59.0" r="1.5"/><circle cx="609.0" cy="70.8" r="1.5"/><circle cx="609.6" cy="82.7" r="1.5"/><circle cx="610.3" cy="95.3" r="1.5"/><circle cx="611.3" cy="106.3" r="1.5"/><circle cx="611.8" cy="116.5" r="1.5"/><circle cx="612.5" cy="123.4" r="1.5"/><circle cx="613.4" cy="122.0" r="1.5"/><circle cx="614.3" cy="125.3" r="1.5"/><circle cx="615.0" cy="129.2" r="1.5"/><circle cx="615.6" cy="133.2" r="1.5"/><circle cx="616.3" cy="130.4" r="1.5"/><circle cx="617.2" cy="125.3" r="1.5"/><circle cx="617.8" cy="120.3" r="1.5"/><circle cx="618.1" cy="115.2" r="1.5"/><circle cx="618.9" cy="110.8" r="1.5"/><circle cx="619.8" cy="108.2" r="1.5"/><circle cx="620.4" cy="107.5" r="1.5"/><circle cx="621.1" cy="105.7" r="1.5"/><circle cx="621.7" cy="105.0" r="1.5"/><circle cx="622.4" cy="101.3" r="1.5"/><circle cx="623.2" cy="97.2" r="1.5"/><circle cx="624.0" cy="101.3" r="1.5"/><circle cx="624.8" cy="105.0" r="1.5"/><circle cx="625.5" cy="104.9" r="1.5"/><circle cx="626.1" cy="106.1" r="1.5"/><circle cx="626.7" cy="106.5" r="1.5"/><circle cx="627.3" cy="108.2" r="1.5"/><circle cx="628.2" cy="112.7" r="1.5"/><circle cx="628.6" cy="117.7" r="1.5"/><circle cx="629.2" cy="124.0" r="1.5"/><circle cx="629.9" cy="129.7" r="1.5"/><circle cx="630.5" cy="131.4" r="1.5"/><circle cx="631.1" cy="133.2" r="1.5"/><circle cx="631.8" cy="131.4" r="1.5"/><circle cx="632.4" cy="129.7" r="1.5"/><circle cx="633.3" cy="125.3" r="1.5"/><circle cx="633.7" cy="121.5" r="1.5"/><circle cx="634.3" cy="120.5" r="1.5"/><circle cx="634.9" cy="120.3" r="1.5"/><circle cx="635.6" cy="112.0" r="1.5"/><circle cx="636.2" cy="101.2" r="1.5"/><circle cx="636.8" cy="89.0" r="1.5"/><circle cx="637.5" cy="77.0" r="1.5"/><circle cx="638.4" cy="64.7" r="1.5"/><circle cx="639.1" cy="53.3" r="1.5"/><circle cx="639.6" cy="43.2" r="1.5"/><circle cx="640.6" cy="34.7" r="1.5"/><circle cx="641.3" cy="30.3" r="1.5"/><circle cx="642.2" cy="34.0" r="1.5"/><circle cx="642.8" cy="31.8" r="1.5"/><circle cx="643.4" cy="29.6" r="1.5"/><circle cx="644.2" cy="28.2" r="1.5"/><circle cx="645.1" cy="28.1" r="1.5"/><circle cx="645.7" cy="28.2" r="1.5"/><circle cx="646.4" cy="29.8" r="1.5"/><circle cx="647.0" cy="29.9" r="1.5"/><circle cx="647.6" cy="29.8" r="1.5"/><circle cx="648.3" cy="28.2" r="1.5"/><circle cx="648.9" cy="28.1" r="1.5"/><circle cx="649.7" cy="26.1" r="1.5"/><circle cx="650.5" cy="25.8" r="1.5"/><circle cx="651.3" cy="26.1" r="1.5"/><circle cx="652.1" cy="28.1" r="1.5"/><circle cx="652.7" cy="26.6" r="1.5"/><circle cx="653.3" cy="26.6" r="1.5"/><circle cx="654.1" cy="26.0" r="1.5"/><circle cx="654.8" cy="26.9" r="1.5"/><circle cx="655.7" cy="25.5" r="1.5"/><circle cx="656.5" cy="25.2" r="1.5"/><circle cx="657.4" cy="22.7" r="1.5"/><circle cx="658.4" cy="19.5" r="1.5"/><circle cx="659.3" cy="17.6" r="1.5"/><circle cx="660.3" cy="20.8" r="1.5"/><circle cx="661.2" cy="23.3" r="1.5"/><circle cx="661.8" cy="23.9" r="1.5"/><circle cx="662.4" cy="23.3" r="1.5"/><circle cx="663.4" cy="25.8" r="1.5"/><circle cx="664.0" cy="28.1" r="1.5"/><circle cx="664.5" cy="30.3" r="1.5"/><circle cx="665.3" cy="33.4" r="1.5"/><circle cx="666.2" cy="36.6" r="1.5"/><circle cx="667.2" cy="40.8" r="1.5"/><circle cx="667.9" cy="44.5" r="1.5"/><circle cx="668.5" cy="48.9" r="1.5"/><circle cx="669.3" cy="52.7" r="1.5"/><circle cx="669.9" cy="46.0" r="1.5"/><circle cx="670.8" cy="41.0" r="1.5"/><circle cx="671.7" cy="36.6" r="1.5"/><circle cx="672.3" cy="41.3" r="1.5"/><circle cx="673.3" cy="46.3" r="1.5"/><circle cx="674.0" cy="50.8" r="1.5"/><circle cx="674.6" cy="55.8" r="1.5"/><circle cx="675.1" cy="60.3" r="1.5"/><circle cx="675.5" cy="65.8" r="1.5"/><circle cx="676.4" cy="70.6" r="1.5"/><circle cx="677.1" cy="74.7" r="1.5"/><circle cx="678.0" cy="76.9" r="1.5"/><circle cx="678.9" cy="78.5" r="1.5"/></g>
</g>
<path d="M406.5 3.5 H679.7 V213.4 H406.5 Z" fill="none" stroke="#1a1a1a" stroke-width="1"/>
<text x="401.8" y="7.5" text-anchor="end" class="tk">0.703</text>
<text x="401.8" y="33.7" text-anchor="end" class="tk">0.702</text>
<text x="401.8" y="60.0" text-anchor="end" class="tk">0.701</text>
<text x="401.8" y="86.2" text-anchor="end" class="tk">0.7</text>
<text x="401.8" y="112.5" text-anchor="end" class="tk">0.699</text>
<text x="401.8" y="138.7" text-anchor="end" class="tk">0.698</text>
<text x="401.8" y="164.9" text-anchor="end" class="tk">0.697</text>
<text x="401.8" y="191.2" text-anchor="end" class="tk">0.696</text>
<text x="401.8" y="217.4" text-anchor="end" class="tk">0.695</text>
<text x="406.5" y="228.2" text-anchor="middle" class="tk">-50</text>
<text x="542.9" y="228.2" text-anchor="middle" class="tk">0</text>
<text x="679.7" y="228.2" text-anchor="middle" class="tk">50</text>
<path d="M406.5 3.5 h3 M679.7 3.5 h-3 M406.5 29.7 h3 M679.7 29.7 h-3 M406.5 56.0 h3 M679.7 56.0 h-3 M406.5 82.2 h3 M679.7 82.2 h-3 M406.5 108.5 h3 M679.7 108.5 h-3 M406.5 134.7 h3 M679.7 134.7 h-3 M406.5 160.9 h3 M679.7 160.9 h-3 M406.5 187.2 h3 M679.7 187.2 h-3 M406.5 213.4 h3 M679.7 213.4 h-3 M406.5 213.4 v-3 M406.5 3.5 v3 M542.9 213.4 v-3 M542.9 3.5 v3 M679.7 213.4 v-3 M679.7 3.5 v3" stroke="#1a1a1a" stroke-width="0.9" fill="none"/>
<text x="167.9" y="251.9" class="lab" font-style="italic" style="font-size:18.5px">t</text><text x="174.9" y="252.9" class="lab" style="font-size:21.4px" textLength="4.6" lengthAdjust="spacingAndGlyphs">[</text><text x="178.7" y="251.9" class="lab" textLength="29.9" lengthAdjust="spacingAndGlyphs">year</text><text x="209.0" y="252.9" class="lab" style="font-size:21.4px" textLength="4.6" lengthAdjust="spacingAndGlyphs">]</text>
<text x="519.4" y="251.9" class="lab" font-style="italic" style="font-size:18.5px">t</text><text x="526.4" y="252.9" class="lab" style="font-size:21.4px" textLength="4.6" lengthAdjust="spacingAndGlyphs">[</text><text x="530.1" y="251.9" class="lab" textLength="29.9" lengthAdjust="spacingAndGlyphs">year</text><text x="560.5" y="252.9" class="lab" style="font-size:21.4px" textLength="4.6" lengthAdjust="spacingAndGlyphs">]</text>
<text x="112.5" y="280.0" class="cap" font-weight="bold" style="font-size:18.5px" textLength="22" lengthAdjust="spacingAndGlyphs">(a)</text>
<text x="140.7" y="280.0" class="cap" style="font-size:17.3px" textLength="113.8" lengthAdjust="spacingAndGlyphs">semi-major axis</text>
<text x="479.6" y="280.0" class="cap" font-weight="bold" style="font-size:18.5px" textLength="23.1" lengthAdjust="spacingAndGlyphs">(b)</text>
<text x="508.2" y="280.0" class="cap" style="font-size:17.3px" textLength="82.5" lengthAdjust="spacingAndGlyphs">eccentricity</text>
<g transform="translate(13.4 125.6) rotate(-90)"><text x="0" y="0" class="lab" font-style="italic" style="font-size:17.5px">a</text><text x="8.6" y="1.4" class="lab" style="font-size:21.4px" textLength="4.6" lengthAdjust="spacingAndGlyphs">[</text><text x="12.6" y="0" class="lab" textLength="16.5" lengthAdjust="spacingAndGlyphs">au</text><text x="29.0" y="1.4" class="lab" style="font-size:21.4px" textLength="4.6" lengthAdjust="spacingAndGlyphs">]</text></g>
<text transform="translate(366.3 112.6) rotate(-90)" class="lab" font-style="italic" style="font-size:17px">e</text>
</svg>
</body></html>
